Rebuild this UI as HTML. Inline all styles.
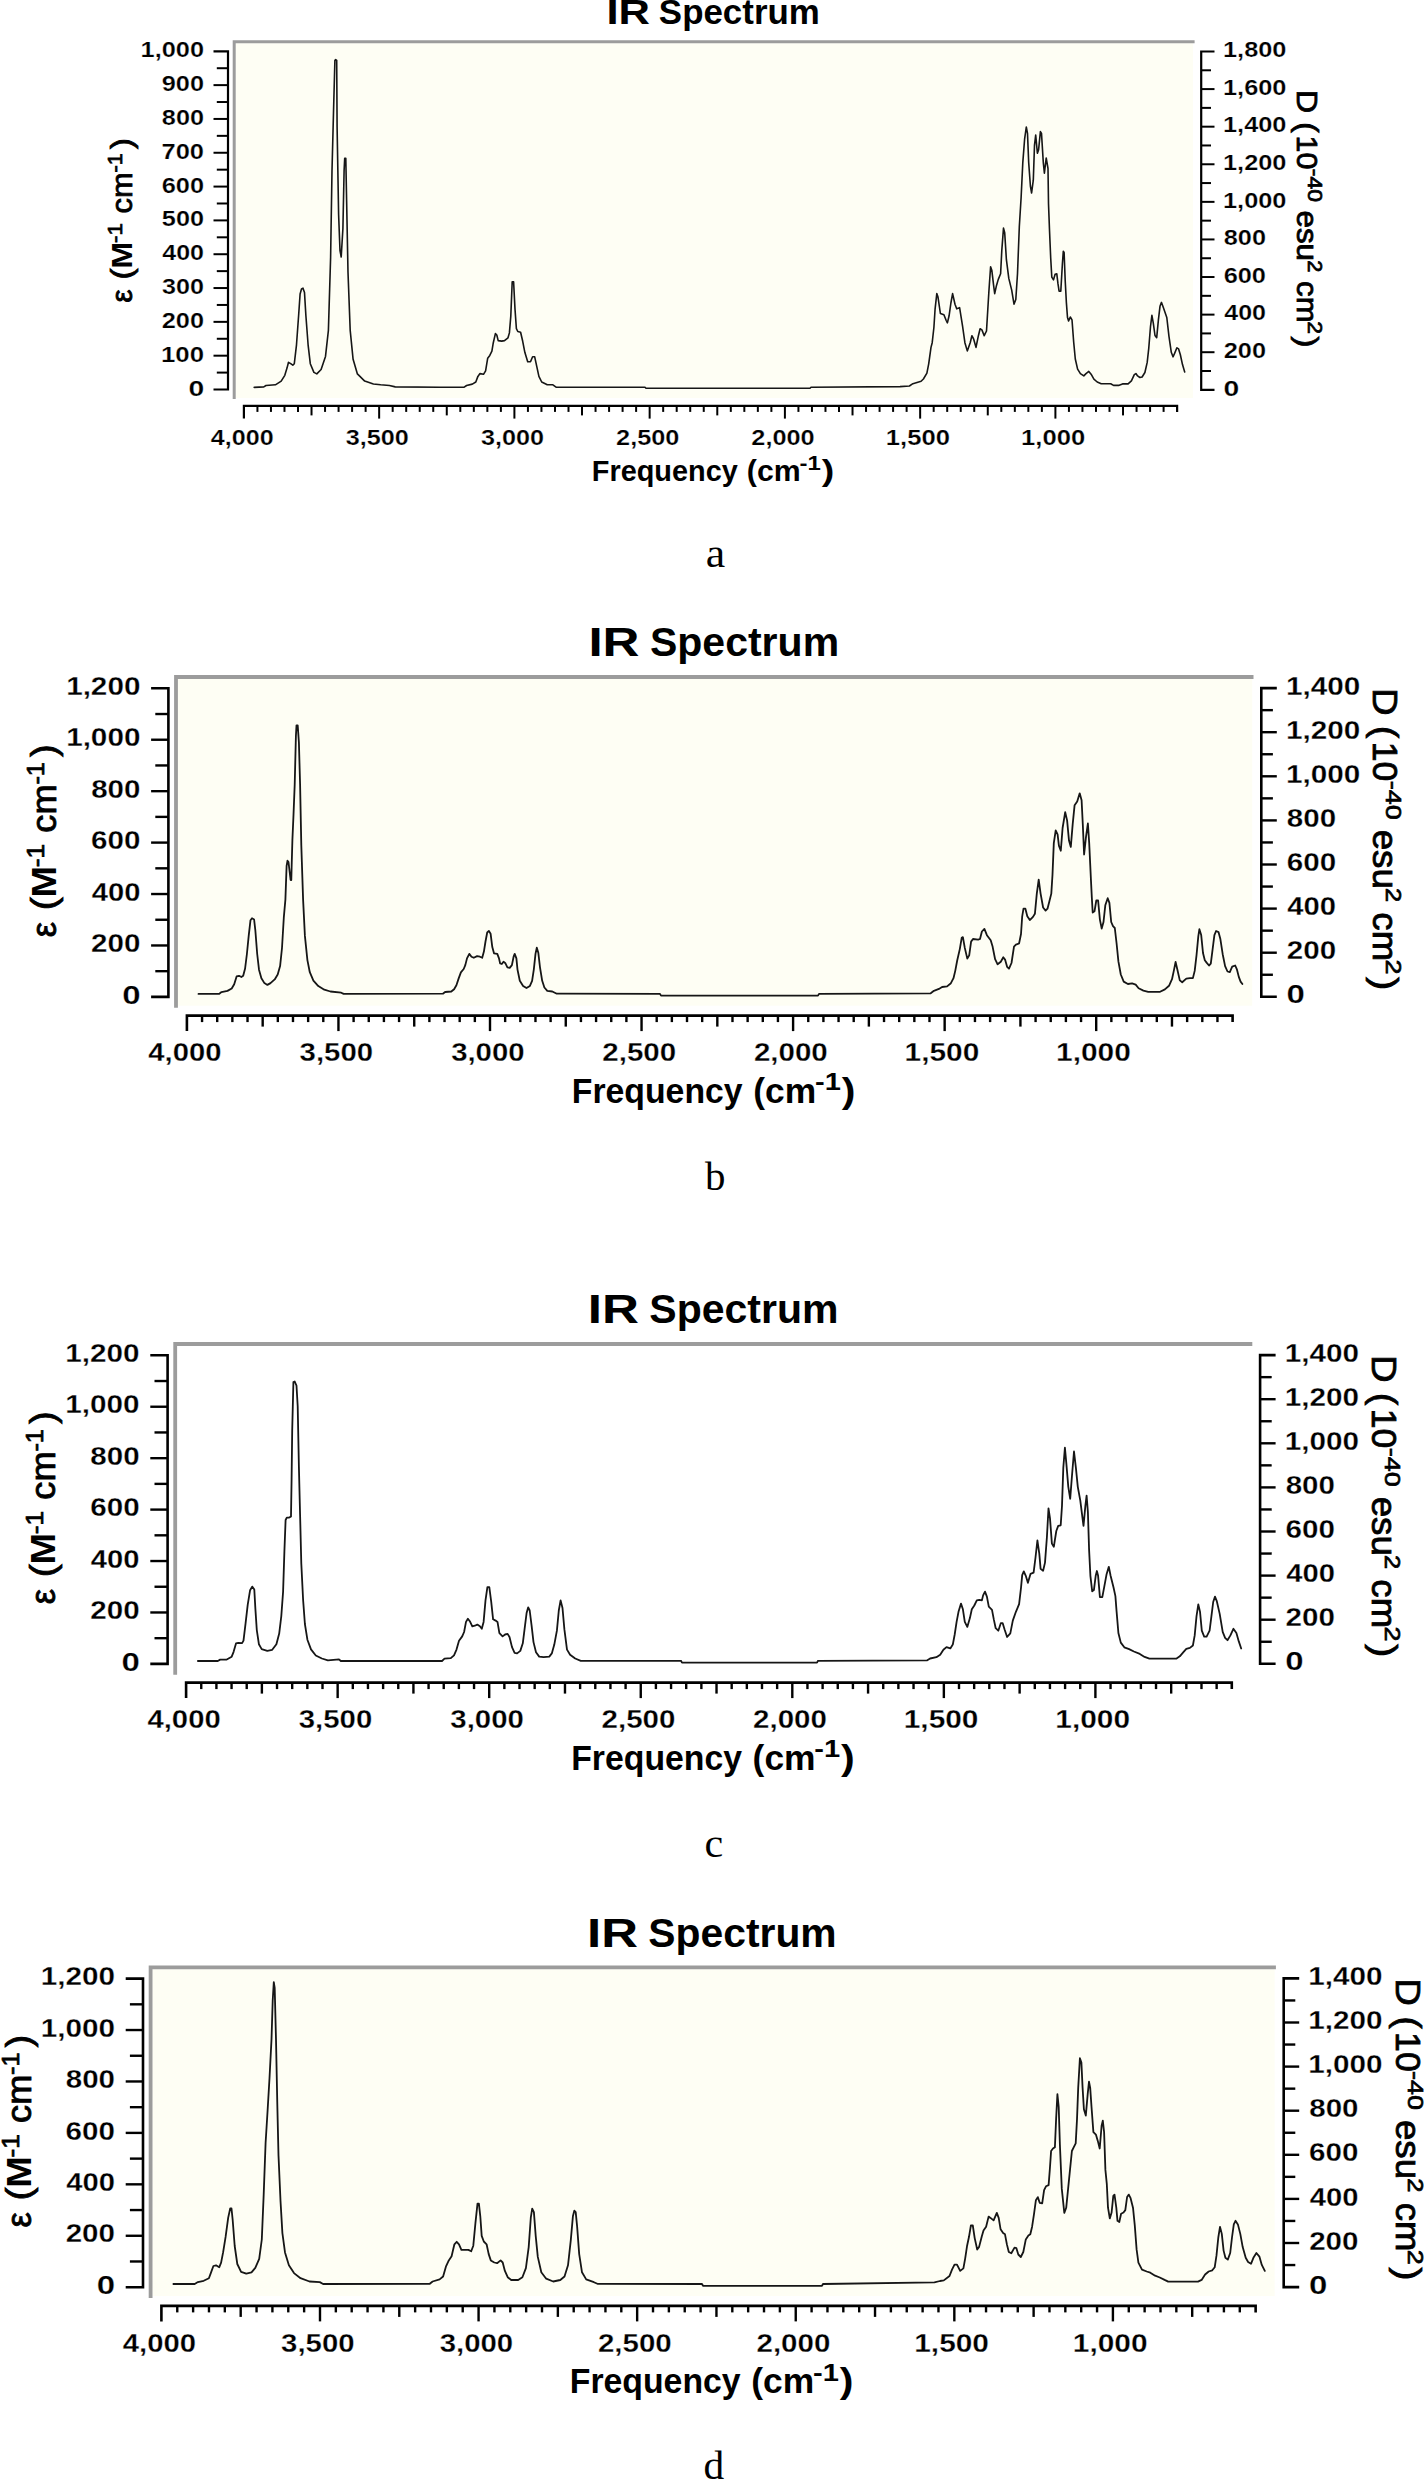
<!DOCTYPE html>
<html><head><meta charset="utf-8"><style>
html,body{margin:0;padding:0;background:#fff;}
svg{display:block;}
</style></head><body>
<svg width="1426" height="2480" viewBox="0 0 1426 2480">
<rect width="1426" height="2480" fill="#fff"/>
<rect x="235.60" y="43.20" width="957.40" height="354.80" fill="#fefef4"/>
<path d="M234.20,399.00 L234.20,41.70 L1194.60,41.70" fill="none" stroke="#9c9c9c" stroke-width="3.0"/>
<polyline points="254.2,387.4 263.8,386.9 266.0,385.5 275.4,384.8 281.2,381.1 284.8,375.3 287.0,368.1 288.5,362.3 290.7,363.7 292.8,365.2 294.3,363.7 296.5,344.8 298.6,315.8 300.1,294.0 301.5,289.0 303.0,288.2 304.5,292.6 305.9,315.8 308.1,344.8 310.3,363.7 313.9,372.4 316.8,373.9 321.1,369.5 325.5,356.4 328.4,330.3 330.6,257.7 332.0,170.6 333.5,112.6 334.9,60.3 335.7,59.6 336.7,60.3 337.1,127.1 338.6,214.2 340.0,250.5 341.2,257.0 342.9,228.7 344.1,170.6 344.7,158.3 345.8,158.3 346.6,199.7 348.0,272.3 350.2,330.3 353.1,359.3 357.4,373.9 364.7,381.1 373.4,384.0 380.7,384.8 389.4,385.5 395.2,386.9 440.0,387.3 463.8,387.3 466.6,385.5 472.3,384.1 475.8,382.0 477.9,376.4 480.0,373.6 483.5,374.3 485.6,370.8 487.7,358.2 489.8,355.4 491.9,351.2 493.3,342.7 495.4,333.6 496.8,335.0 498.2,340.6 501.7,341.1 504.5,340.6 508.0,337.8 509.4,332.9 510.8,316.1 512.2,281.7 513.6,281.7 515.0,309.1 516.4,328.7 517.8,331.5 520.6,332.2 522.7,341.3 524.9,352.6 527.7,361.7 530.5,361.7 532.6,356.8 534.7,356.8 536.8,366.6 538.9,376.4 541.7,382.0 547.3,384.8 552.9,384.8 556.4,387.3 645.0,387.3 646.0,388.3 810.0,388.3 811.0,387.3 900.0,386.6 909.4,386.0 912.9,383.7 921.1,381.3 923.4,379.0 926.9,373.2 928.7,363.8 931.0,347.4 932.2,342.7 933.9,327.5 935.1,308.8 936.8,293.6 938.0,297.1 940.4,313.5 943.9,314.7 946.2,320.5 947.4,322.9 949.1,315.8 950.9,303.0 952.6,293.6 955.0,304.2 956.7,308.8 959.6,307.7 962.6,326.4 964.9,342.7 967.3,350.9 970.2,342.7 971.9,335.7 973.7,339.2 976.0,347.4 978.4,335.7 980.1,328.7 981.9,329.9 984.2,335.7 986.5,331.0 988.9,291.3 990.6,266.7 991.8,270.2 993.6,285.4 994.7,293.6 996.5,285.4 998.2,279.6 1000.6,273.7 1001.8,250.4 1003.5,228.1 1004.7,232.8 1006.4,259.7 1008.8,278.4 1011.7,290.1 1014.0,304.2 1015.8,299.5 1017.5,273.7 1019.3,227.0 1021.1,197.7 1022.8,162.6 1024.6,139.2 1026.3,127.0 1027.5,133.4 1028.7,162.6 1030.4,186.0 1031.6,193.0 1033.3,180.2 1034.5,145.1 1035.7,135.1 1037.4,153.3 1038.6,149.8 1040.4,131.6 1041.5,133.4 1043.3,162.6 1044.4,173.2 1046.2,158.0 1048.0,168.5 1048.5,203.6 1049.5,230.0 1050.7,258.0 1051.8,277.1 1053.5,279.9 1055.1,274.3 1056.8,273.8 1058.0,283.9 1059.1,291.2 1060.8,291.2 1062.4,263.7 1063.3,251.3 1064.1,252.4 1065.2,280.5 1066.4,302.9 1067.5,317.5 1068.6,320.9 1070.3,317.0 1072.0,319.8 1073.7,342.2 1075.3,359.0 1077.6,369.1 1080.4,373.6 1083.8,375.9 1086.0,373.6 1088.8,371.4 1091.1,374.2 1093.9,379.2 1097.2,382.0 1101.2,383.7 1110.7,383.7 1113.5,385.4 1118.5,385.4 1122.5,383.9 1128.1,383.9 1131.4,380.9 1134.3,374.7 1135.9,373.6 1137.6,375.9 1139.9,377.5 1142.1,377.0 1144.9,372.5 1147.2,362.4 1148.8,347.8 1150.5,326.5 1151.9,315.3 1153.3,323.1 1155.0,335.5 1156.7,337.7 1158.4,319.8 1160.0,306.3 1161.4,302.4 1162.9,306.3 1166.8,317.5 1169.0,336.6 1171.3,352.3 1173.0,356.8 1174.6,353.4 1176.9,347.8 1178.6,348.9 1180.3,354.5 1182.5,364.6 1184.7,371.9" fill="none" stroke="#161616" stroke-width="1.6" stroke-linejoin="round" stroke-linecap="round"/>
<path d="M213.50,51.30 H228.00 V389.50 H213.50" fill="none" stroke="#000" stroke-width="2.2" stroke-linejoin="miter"/>
<line x1="216.80" y1="372.59" x2="228.00" y2="372.59" stroke="#000" stroke-width="2.0"/>
<line x1="213.50" y1="355.68" x2="228.00" y2="355.68" stroke="#000" stroke-width="2.0"/>
<line x1="216.80" y1="338.77" x2="228.00" y2="338.77" stroke="#000" stroke-width="2.0"/>
<line x1="213.50" y1="321.86" x2="228.00" y2="321.86" stroke="#000" stroke-width="2.0"/>
<line x1="216.80" y1="304.95" x2="228.00" y2="304.95" stroke="#000" stroke-width="2.0"/>
<line x1="213.50" y1="288.04" x2="228.00" y2="288.04" stroke="#000" stroke-width="2.0"/>
<line x1="216.80" y1="271.13" x2="228.00" y2="271.13" stroke="#000" stroke-width="2.0"/>
<line x1="213.50" y1="254.22" x2="228.00" y2="254.22" stroke="#000" stroke-width="2.0"/>
<line x1="216.80" y1="237.31" x2="228.00" y2="237.31" stroke="#000" stroke-width="2.0"/>
<line x1="213.50" y1="220.40" x2="228.00" y2="220.40" stroke="#000" stroke-width="2.0"/>
<line x1="216.80" y1="203.49" x2="228.00" y2="203.49" stroke="#000" stroke-width="2.0"/>
<line x1="213.50" y1="186.58" x2="228.00" y2="186.58" stroke="#000" stroke-width="2.0"/>
<line x1="216.80" y1="169.67" x2="228.00" y2="169.67" stroke="#000" stroke-width="2.0"/>
<line x1="213.50" y1="152.76" x2="228.00" y2="152.76" stroke="#000" stroke-width="2.0"/>
<line x1="216.80" y1="135.85" x2="228.00" y2="135.85" stroke="#000" stroke-width="2.0"/>
<line x1="213.50" y1="118.94" x2="228.00" y2="118.94" stroke="#000" stroke-width="2.0"/>
<line x1="216.80" y1="102.03" x2="228.00" y2="102.03" stroke="#000" stroke-width="2.0"/>
<line x1="213.50" y1="85.12" x2="228.00" y2="85.12" stroke="#000" stroke-width="2.0"/>
<line x1="216.80" y1="68.21" x2="228.00" y2="68.21" stroke="#000" stroke-width="2.0"/>
<text transform="translate(188.43,395.50) scale(1.2855,1)" font-family='"Liberation Sans", sans-serif' font-weight="bold" font-size="22.00" fill="#000" stroke="#fff" stroke-width="0.19" paint-order="normal">0</text>
<text transform="translate(161.03,361.68) scale(1.1724,1)" font-family='"Liberation Sans", sans-serif' font-weight="bold" font-size="22.00" fill="#000" stroke="#fff" stroke-width="0.21" paint-order="normal">100</text>
<text transform="translate(161.77,327.86) scale(1.1515,1)" font-family='"Liberation Sans", sans-serif' font-weight="bold" font-size="22.00" fill="#000" stroke="#fff" stroke-width="0.22" paint-order="normal">200</text>
<text transform="translate(162.07,294.04) scale(1.1431,1)" font-family='"Liberation Sans", sans-serif' font-weight="bold" font-size="22.00" fill="#000" stroke="#fff" stroke-width="0.22" paint-order="normal">300</text>
<text transform="translate(162.27,260.22) scale(1.1376,1)" font-family='"Liberation Sans", sans-serif' font-weight="bold" font-size="22.00" fill="#000" stroke="#fff" stroke-width="0.22" paint-order="normal">400</text>
<text transform="translate(161.87,226.40) scale(1.1487,1)" font-family='"Liberation Sans", sans-serif' font-weight="bold" font-size="22.00" fill="#000" stroke="#fff" stroke-width="0.22" paint-order="normal">500</text>
<text transform="translate(161.72,192.58) scale(1.1529,1)" font-family='"Liberation Sans", sans-serif' font-weight="bold" font-size="22.00" fill="#000" stroke="#fff" stroke-width="0.22" paint-order="normal">600</text>
<text transform="translate(161.56,158.76) scale(1.1575,1)" font-family='"Liberation Sans", sans-serif' font-weight="bold" font-size="22.00" fill="#000" stroke="#fff" stroke-width="0.22" paint-order="normal">700</text>
<text transform="translate(161.85,124.94) scale(1.1494,1)" font-family='"Liberation Sans", sans-serif' font-weight="bold" font-size="22.00" fill="#000" stroke="#fff" stroke-width="0.22" paint-order="normal">800</text>
<text transform="translate(161.77,91.12) scale(1.1515,1)" font-family='"Liberation Sans", sans-serif' font-weight="bold" font-size="22.00" fill="#000" stroke="#fff" stroke-width="0.22" paint-order="normal">900</text>
<text transform="translate(140.60,57.30) scale(1.1523,1)" font-family='"Liberation Sans", sans-serif' font-weight="bold" font-size="22.00" fill="#000" stroke="#fff" stroke-width="0.22" paint-order="normal">1,000</text>
<path d="M1214.50,51.50 H1201.20 V389.80 H1214.50" fill="none" stroke="#000" stroke-width="2.2" stroke-linejoin="miter"/>
<line x1="1201.20" y1="371.01" x2="1211.00" y2="371.01" stroke="#000" stroke-width="2.0"/>
<line x1="1201.20" y1="352.21" x2="1214.50" y2="352.21" stroke="#000" stroke-width="2.0"/>
<line x1="1201.20" y1="333.42" x2="1211.00" y2="333.42" stroke="#000" stroke-width="2.0"/>
<line x1="1201.20" y1="314.62" x2="1214.50" y2="314.62" stroke="#000" stroke-width="2.0"/>
<line x1="1201.20" y1="295.83" x2="1211.00" y2="295.83" stroke="#000" stroke-width="2.0"/>
<line x1="1201.20" y1="277.03" x2="1214.50" y2="277.03" stroke="#000" stroke-width="2.0"/>
<line x1="1201.20" y1="258.24" x2="1211.00" y2="258.24" stroke="#000" stroke-width="2.0"/>
<line x1="1201.20" y1="239.44" x2="1214.50" y2="239.44" stroke="#000" stroke-width="2.0"/>
<line x1="1201.20" y1="220.65" x2="1211.00" y2="220.65" stroke="#000" stroke-width="2.0"/>
<line x1="1201.20" y1="201.86" x2="1214.50" y2="201.86" stroke="#000" stroke-width="2.0"/>
<line x1="1201.20" y1="183.06" x2="1211.00" y2="183.06" stroke="#000" stroke-width="2.0"/>
<line x1="1201.20" y1="164.27" x2="1214.50" y2="164.27" stroke="#000" stroke-width="2.0"/>
<line x1="1201.20" y1="145.47" x2="1211.00" y2="145.47" stroke="#000" stroke-width="2.0"/>
<line x1="1201.20" y1="126.68" x2="1214.50" y2="126.68" stroke="#000" stroke-width="2.0"/>
<line x1="1201.20" y1="107.88" x2="1211.00" y2="107.88" stroke="#000" stroke-width="2.0"/>
<line x1="1201.20" y1="89.09" x2="1214.50" y2="89.09" stroke="#000" stroke-width="2.0"/>
<line x1="1201.20" y1="70.29" x2="1211.00" y2="70.29" stroke="#000" stroke-width="2.0"/>
<text transform="translate(1223.48,395.60) scale(1.2855,1)" font-family='"Liberation Sans", sans-serif' font-weight="bold" font-size="22.00" fill="#000" stroke="#fff" stroke-width="0.19" paint-order="normal">0</text>
<text transform="translate(1223.72,358.01) scale(1.1515,1)" font-family='"Liberation Sans", sans-serif' font-weight="bold" font-size="22.00" fill="#000" stroke="#fff" stroke-width="0.22" paint-order="normal">200</text>
<text transform="translate(1224.22,320.42) scale(1.1376,1)" font-family='"Liberation Sans", sans-serif' font-weight="bold" font-size="22.00" fill="#000" stroke="#fff" stroke-width="0.22" paint-order="normal">400</text>
<text transform="translate(1223.67,282.83) scale(1.1529,1)" font-family='"Liberation Sans", sans-serif' font-weight="bold" font-size="22.00" fill="#000" stroke="#fff" stroke-width="0.22" paint-order="normal">600</text>
<text transform="translate(1223.80,245.24) scale(1.1494,1)" font-family='"Liberation Sans", sans-serif' font-weight="bold" font-size="22.00" fill="#000" stroke="#fff" stroke-width="0.22" paint-order="normal">800</text>
<text transform="translate(1223.00,207.66) scale(1.1523,1)" font-family='"Liberation Sans", sans-serif' font-weight="bold" font-size="22.00" fill="#000" stroke="#fff" stroke-width="0.22" paint-order="normal">1,000</text>
<text transform="translate(1223.00,170.07) scale(1.1523,1)" font-family='"Liberation Sans", sans-serif' font-weight="bold" font-size="22.00" fill="#000" stroke="#fff" stroke-width="0.22" paint-order="normal">1,200</text>
<text transform="translate(1223.00,132.48) scale(1.1523,1)" font-family='"Liberation Sans", sans-serif' font-weight="bold" font-size="22.00" fill="#000" stroke="#fff" stroke-width="0.22" paint-order="normal">1,400</text>
<text transform="translate(1223.00,94.89) scale(1.1523,1)" font-family='"Liberation Sans", sans-serif' font-weight="bold" font-size="22.00" fill="#000" stroke="#fff" stroke-width="0.22" paint-order="normal">1,600</text>
<text transform="translate(1223.00,57.30) scale(1.1523,1)" font-family='"Liberation Sans", sans-serif' font-weight="bold" font-size="22.00" fill="#000" stroke="#fff" stroke-width="0.22" paint-order="normal">1,800</text>
<path d="M243.90,418.60 V405.90 H1177.12 V411.90" fill="none" stroke="#000" stroke-width="2.2" stroke-linejoin="miter"/>
<line x1="257.43" y1="405.90" x2="257.43" y2="411.90" stroke="#000" stroke-width="2.0"/>
<line x1="270.95" y1="405.90" x2="270.95" y2="411.90" stroke="#000" stroke-width="2.0"/>
<line x1="284.48" y1="405.90" x2="284.48" y2="411.90" stroke="#000" stroke-width="2.0"/>
<line x1="298.00" y1="405.90" x2="298.00" y2="411.90" stroke="#000" stroke-width="2.0"/>
<line x1="311.52" y1="405.90" x2="311.52" y2="415.40" stroke="#000" stroke-width="2.0"/>
<line x1="325.05" y1="405.90" x2="325.05" y2="411.90" stroke="#000" stroke-width="2.0"/>
<line x1="338.58" y1="405.90" x2="338.58" y2="411.90" stroke="#000" stroke-width="2.0"/>
<line x1="352.10" y1="405.90" x2="352.10" y2="411.90" stroke="#000" stroke-width="2.0"/>
<line x1="365.62" y1="405.90" x2="365.62" y2="411.90" stroke="#000" stroke-width="2.0"/>
<line x1="379.15" y1="405.90" x2="379.15" y2="418.60" stroke="#000" stroke-width="2.0"/>
<line x1="392.68" y1="405.90" x2="392.68" y2="411.90" stroke="#000" stroke-width="2.0"/>
<line x1="406.20" y1="405.90" x2="406.20" y2="411.90" stroke="#000" stroke-width="2.0"/>
<line x1="419.73" y1="405.90" x2="419.73" y2="411.90" stroke="#000" stroke-width="2.0"/>
<line x1="433.25" y1="405.90" x2="433.25" y2="411.90" stroke="#000" stroke-width="2.0"/>
<line x1="446.77" y1="405.90" x2="446.77" y2="415.40" stroke="#000" stroke-width="2.0"/>
<line x1="460.30" y1="405.90" x2="460.30" y2="411.90" stroke="#000" stroke-width="2.0"/>
<line x1="473.83" y1="405.90" x2="473.83" y2="411.90" stroke="#000" stroke-width="2.0"/>
<line x1="487.35" y1="405.90" x2="487.35" y2="411.90" stroke="#000" stroke-width="2.0"/>
<line x1="500.88" y1="405.90" x2="500.88" y2="411.90" stroke="#000" stroke-width="2.0"/>
<line x1="514.40" y1="405.90" x2="514.40" y2="418.60" stroke="#000" stroke-width="2.0"/>
<line x1="527.93" y1="405.90" x2="527.93" y2="411.90" stroke="#000" stroke-width="2.0"/>
<line x1="541.45" y1="405.90" x2="541.45" y2="411.90" stroke="#000" stroke-width="2.0"/>
<line x1="554.98" y1="405.90" x2="554.98" y2="411.90" stroke="#000" stroke-width="2.0"/>
<line x1="568.50" y1="405.90" x2="568.50" y2="411.90" stroke="#000" stroke-width="2.0"/>
<line x1="582.02" y1="405.90" x2="582.02" y2="415.40" stroke="#000" stroke-width="2.0"/>
<line x1="595.55" y1="405.90" x2="595.55" y2="411.90" stroke="#000" stroke-width="2.0"/>
<line x1="609.08" y1="405.90" x2="609.08" y2="411.90" stroke="#000" stroke-width="2.0"/>
<line x1="622.60" y1="405.90" x2="622.60" y2="411.90" stroke="#000" stroke-width="2.0"/>
<line x1="636.12" y1="405.90" x2="636.12" y2="411.90" stroke="#000" stroke-width="2.0"/>
<line x1="649.65" y1="405.90" x2="649.65" y2="418.60" stroke="#000" stroke-width="2.0"/>
<line x1="663.18" y1="405.90" x2="663.18" y2="411.90" stroke="#000" stroke-width="2.0"/>
<line x1="676.70" y1="405.90" x2="676.70" y2="411.90" stroke="#000" stroke-width="2.0"/>
<line x1="690.23" y1="405.90" x2="690.23" y2="411.90" stroke="#000" stroke-width="2.0"/>
<line x1="703.75" y1="405.90" x2="703.75" y2="411.90" stroke="#000" stroke-width="2.0"/>
<line x1="717.28" y1="405.90" x2="717.28" y2="415.40" stroke="#000" stroke-width="2.0"/>
<line x1="730.80" y1="405.90" x2="730.80" y2="411.90" stroke="#000" stroke-width="2.0"/>
<line x1="744.33" y1="405.90" x2="744.33" y2="411.90" stroke="#000" stroke-width="2.0"/>
<line x1="757.85" y1="405.90" x2="757.85" y2="411.90" stroke="#000" stroke-width="2.0"/>
<line x1="771.38" y1="405.90" x2="771.38" y2="411.90" stroke="#000" stroke-width="2.0"/>
<line x1="784.90" y1="405.90" x2="784.90" y2="418.60" stroke="#000" stroke-width="2.0"/>
<line x1="798.43" y1="405.90" x2="798.43" y2="411.90" stroke="#000" stroke-width="2.0"/>
<line x1="811.95" y1="405.90" x2="811.95" y2="411.90" stroke="#000" stroke-width="2.0"/>
<line x1="825.48" y1="405.90" x2="825.48" y2="411.90" stroke="#000" stroke-width="2.0"/>
<line x1="839.00" y1="405.90" x2="839.00" y2="411.90" stroke="#000" stroke-width="2.0"/>
<line x1="852.52" y1="405.90" x2="852.52" y2="415.40" stroke="#000" stroke-width="2.0"/>
<line x1="866.05" y1="405.90" x2="866.05" y2="411.90" stroke="#000" stroke-width="2.0"/>
<line x1="879.58" y1="405.90" x2="879.58" y2="411.90" stroke="#000" stroke-width="2.0"/>
<line x1="893.10" y1="405.90" x2="893.10" y2="411.90" stroke="#000" stroke-width="2.0"/>
<line x1="906.62" y1="405.90" x2="906.62" y2="411.90" stroke="#000" stroke-width="2.0"/>
<line x1="920.15" y1="405.90" x2="920.15" y2="418.60" stroke="#000" stroke-width="2.0"/>
<line x1="933.68" y1="405.90" x2="933.68" y2="411.90" stroke="#000" stroke-width="2.0"/>
<line x1="947.20" y1="405.90" x2="947.20" y2="411.90" stroke="#000" stroke-width="2.0"/>
<line x1="960.73" y1="405.90" x2="960.73" y2="411.90" stroke="#000" stroke-width="2.0"/>
<line x1="974.25" y1="405.90" x2="974.25" y2="411.90" stroke="#000" stroke-width="2.0"/>
<line x1="987.77" y1="405.90" x2="987.77" y2="415.40" stroke="#000" stroke-width="2.0"/>
<line x1="1001.30" y1="405.90" x2="1001.30" y2="411.90" stroke="#000" stroke-width="2.0"/>
<line x1="1014.83" y1="405.90" x2="1014.83" y2="411.90" stroke="#000" stroke-width="2.0"/>
<line x1="1028.35" y1="405.90" x2="1028.35" y2="411.90" stroke="#000" stroke-width="2.0"/>
<line x1="1041.88" y1="405.90" x2="1041.88" y2="411.90" stroke="#000" stroke-width="2.0"/>
<line x1="1055.40" y1="405.90" x2="1055.40" y2="418.60" stroke="#000" stroke-width="2.0"/>
<line x1="1068.93" y1="405.90" x2="1068.93" y2="411.90" stroke="#000" stroke-width="2.0"/>
<line x1="1082.45" y1="405.90" x2="1082.45" y2="411.90" stroke="#000" stroke-width="2.0"/>
<line x1="1095.98" y1="405.90" x2="1095.98" y2="411.90" stroke="#000" stroke-width="2.0"/>
<line x1="1109.50" y1="405.90" x2="1109.50" y2="411.90" stroke="#000" stroke-width="2.0"/>
<line x1="1123.03" y1="405.90" x2="1123.03" y2="415.40" stroke="#000" stroke-width="2.0"/>
<line x1="1136.55" y1="405.90" x2="1136.55" y2="411.90" stroke="#000" stroke-width="2.0"/>
<line x1="1150.08" y1="405.90" x2="1150.08" y2="411.90" stroke="#000" stroke-width="2.0"/>
<line x1="1163.60" y1="405.90" x2="1163.60" y2="411.90" stroke="#000" stroke-width="2.0"/>
<text transform="translate(210.82,445.00) scale(1.1409,1)" font-family='"Liberation Sans", sans-serif' font-weight="bold" font-size="22.00" fill="#000" stroke="#fff" stroke-width="0.22" paint-order="normal">4,000</text>
<text transform="translate(345.87,445.00) scale(1.1445,1)" font-family='"Liberation Sans", sans-serif' font-weight="bold" font-size="22.00" fill="#000" stroke="#fff" stroke-width="0.22" paint-order="normal">3,500</text>
<text transform="translate(481.12,445.00) scale(1.1445,1)" font-family='"Liberation Sans", sans-serif' font-weight="bold" font-size="22.00" fill="#000" stroke="#fff" stroke-width="0.22" paint-order="normal">3,000</text>
<text transform="translate(616.07,445.00) scale(1.1501,1)" font-family='"Liberation Sans", sans-serif' font-weight="bold" font-size="22.00" fill="#000" stroke="#fff" stroke-width="0.22" paint-order="normal">2,500</text>
<text transform="translate(751.32,445.00) scale(1.1501,1)" font-family='"Liberation Sans", sans-serif' font-weight="bold" font-size="22.00" fill="#000" stroke="#fff" stroke-width="0.22" paint-order="normal">2,000</text>
<text transform="translate(885.84,445.00) scale(1.1636,1)" font-family='"Liberation Sans", sans-serif' font-weight="bold" font-size="22.00" fill="#000" stroke="#fff" stroke-width="0.21" paint-order="normal">1,500</text>
<text transform="translate(1021.09,445.00) scale(1.1636,1)" font-family='"Liberation Sans", sans-serif' font-weight="bold" font-size="22.00" fill="#000" stroke="#fff" stroke-width="0.21" paint-order="normal">1,000</text>
<text transform="translate(606.49,23.60) scale(1.2332,1)" font-family='"Liberation Sans", sans-serif' font-weight="bold" font-size="35.31" fill="#000">IR</text>
<text transform="translate(658.87,23.60) scale(0.9885,1)" font-family='"Liberation Sans", sans-serif' font-weight="bold" font-size="35.31" fill="#000">Spectrum</text>
<text transform="translate(591.77,480.60) scale(0.9673,1)" font-family='"Liberation Sans", sans-serif' font-weight="bold" font-size="29.86" fill="#000">Frequency</text>
<text transform="translate(746.84,480.60) scale(1.0141,1)" font-family='"Liberation Sans", sans-serif' font-weight="bold" font-size="29.86" fill="#000">(cm</text>
<text transform="translate(799.56,470.20) scale(1.2212,1)" font-family='"Liberation Sans", sans-serif' font-weight="bold" font-size="19.62" fill="#000">-1</text>
<text transform="translate(821.86,480.60) scale(1.2580,1)" font-family='"Liberation Sans", sans-serif' font-weight="bold" font-size="29.86" fill="#000">)</text>
<text transform="translate(131.90,301.60) rotate(-90) translate(-1.00,0.00) scale(0.9752,1)" font-family='"Liberation Sans", sans-serif' font-weight="normal" font-size="29.86" fill="#000" stroke="#000" stroke-width="0.87">ε</text>
<text transform="translate(131.90,301.60) rotate(-90) translate(22.05,0.00) scale(1.1315,1)" font-family='"Liberation Sans", sans-serif' font-weight="normal" font-size="29.86" fill="#000" stroke="#000" stroke-width="0.75">(</text>
<text transform="translate(131.90,301.60) rotate(-90) translate(32.81,0.00) scale(1.0828,1)" font-family='"Liberation Sans", sans-serif' font-weight="bold" font-size="29.86" fill="#000">M</text>
<text transform="translate(131.90,301.60) rotate(-90) translate(58.72,-10.24) scale(1.1363,1)" font-family='"Liberation Sans", sans-serif' font-weight="normal" font-size="19.62" fill="#000" stroke="#000" stroke-width="0.75">-1</text>
<text transform="translate(131.90,301.60) rotate(-90) translate(88.17,0.00) scale(1.0336,1)" font-family='"Liberation Sans", sans-serif' font-weight="normal" font-size="29.86" fill="#000" stroke="#000" stroke-width="0.82">cm</text>
<text transform="translate(131.90,301.60) rotate(-90) translate(129.13,-10.24) scale(1.0980,1)" font-family='"Liberation Sans", sans-serif' font-weight="normal" font-size="19.62" fill="#000" stroke="#000" stroke-width="0.77">-1</text>
<text transform="translate(131.90,301.60) rotate(-90) translate(152.58,0.00) scale(1.0776,1)" font-family='"Liberation Sans", sans-serif' font-weight="normal" font-size="29.86" fill="#000" stroke="#000" stroke-width="0.79">)</text>
<text transform="translate(1296.90,92.40) rotate(90) translate(-2.67,0.00) scale(1.0902,1)" font-family='"Liberation Sans", sans-serif' font-weight="normal" font-size="29.86" fill="#000" stroke="#000" stroke-width="0.78">D</text>
<text transform="translate(1296.90,92.40) rotate(90) translate(29.78,0.00) scale(1.0561,1)" font-family='"Liberation Sans", sans-serif' font-weight="normal" font-size="29.86" fill="#000" stroke="#000" stroke-width="0.80">(</text>
<text transform="translate(1296.90,92.40) rotate(90) translate(43.15,0.00) scale(1.0173,1)" font-family='"Liberation Sans", sans-serif' font-weight="normal" font-size="29.86" fill="#000" stroke="#000" stroke-width="0.84">10</text>
<text transform="translate(1296.90,92.40) rotate(90) translate(76.43,-10.83) scale(1.1872,1)" font-family='"Liberation Sans", sans-serif' font-weight="normal" font-size="19.36" fill="#000" stroke="#000" stroke-width="0.72">-40</text>
<text transform="translate(1296.90,92.40) rotate(90) translate(118.09,0.00) scale(1.0490,1)" font-family='"Liberation Sans", sans-serif' font-weight="normal" font-size="29.86" fill="#000" stroke="#000" stroke-width="0.81">esu</text>
<text transform="translate(1296.90,92.40) rotate(90) translate(167.89,-10.83) scale(1.1217,1)" font-family='"Liberation Sans", sans-serif' font-weight="normal" font-size="19.36" fill="#000" stroke="#000" stroke-width="0.76">2</text>
<text transform="translate(1296.90,92.40) rotate(90) translate(188.64,0.00) scale(1.0452,1)" font-family='"Liberation Sans", sans-serif' font-weight="normal" font-size="29.86" fill="#000" stroke="#000" stroke-width="0.81">cm</text>
<text transform="translate(1296.90,92.40) rotate(90) translate(228.81,-10.83) scale(1.1894,1)" font-family='"Liberation Sans", sans-serif' font-weight="normal" font-size="19.36" fill="#000" stroke="#000" stroke-width="0.71">2</text>
<text transform="translate(1296.90,92.40) rotate(90) translate(243.85,0.00) scale(1.1315,1)" font-family='"Liberation Sans", sans-serif' font-weight="normal" font-size="29.86" fill="#000" stroke="#000" stroke-width="0.75">)</text>
<text transform="translate(705.66,566.60) scale(1.0949,1)" font-family='"Liberation Serif", serif' font-weight="normal" font-size="40.00" fill="#000">a</text>
<rect x="177.90" y="678.90" width="1074.30" height="326.80" fill="#fefef4"/>
<path d="M176.00,1007.80 L176.00,677.00 L1253.50,677.00" fill="none" stroke="#9c9c9c" stroke-width="3.8"/>
<polyline points="198.5,993.9 219.0,993.9 221.5,992.1 227.5,990.9 231.7,988.5 234.2,984.3 236.6,976.4 239.0,975.8 241.4,977.0 243.2,975.8 245.1,968.5 246.9,954.0 248.7,935.9 250.5,920.2 252.0,918.3 254.1,919.5 255.3,929.8 257.2,954.0 259.0,969.7 261.4,978.2 264.4,983.1 267.4,984.9 270.5,983.1 274.7,979.4 277.7,974.6 280.1,966.1 282.0,948.0 283.8,917.7 285.4,899.6 286.6,866.0 287.5,860.7 288.5,862.0 290.6,880.0 291.3,880.0 291.7,864.5 292.4,840.0 293.5,815.0 294.7,784.7 295.9,736.3 296.5,725.4 297.7,725.4 298.9,742.3 300.1,784.7 301.3,845.2 303.1,899.6 304.9,935.9 307.4,960.1 309.8,972.2 313.4,980.6 318.3,986.1 324.3,989.7 330.4,991.5 341.2,992.7 343.7,993.9 442.9,993.7 445.1,992.0 451.3,991.5 454.1,989.2 456.4,985.3 458.6,978.6 460.9,972.4 463.7,969.0 465.3,965.1 467.0,958.4 469.3,953.9 471.5,956.7 473.8,957.8 477.1,956.1 479.9,956.7 482.2,957.8 483.9,951.6 485.5,941.5 487.2,932.5 488.9,930.9 490.6,933.7 492.3,947.1 494.0,953.3 497.3,953.9 499.0,958.4 500.1,963.4 501.8,964.0 503.5,961.7 505.2,962.9 507.4,967.3 509.7,967.9 511.9,965.1 513.6,956.7 514.7,953.9 516.4,958.4 517.5,969.6 519.8,980.8 523.1,985.9 526.5,988.1 529.9,985.9 532.1,980.8 533.8,969.6 535.5,953.9 536.8,947.7 538.3,952.7 540.0,967.3 542.2,980.8 544.4,987.5 547.3,990.9 552.3,991.5 556.8,993.7 660.0,993.9 661.0,995.6 818.0,995.6 819.0,993.9 930.7,993.3 933.9,990.8 938.9,988.9 942.1,987.0 947.1,986.4 950.9,983.2 953.5,978.2 955.3,970.6 957.2,960.5 959.8,949.1 961.7,937.8 962.9,937.1 964.8,947.9 967.3,958.6 969.2,955.4 971.1,941.6 973.0,939.0 978.1,939.7 980.0,939.0 981.9,931.5 984.4,928.9 986.9,935.2 990.7,940.3 992.6,946.6 995.1,959.2 997.6,964.3 1000.8,961.7 1003.3,957.3 1005.2,959.9 1007.1,966.8 1009.0,968.7 1011.5,963.0 1014.0,946.6 1015.9,944.7 1019.1,943.4 1021.0,934.0 1022.2,916.3 1023.5,908.7 1025.4,908.7 1027.3,916.3 1029.8,920.1 1033.0,916.9 1034.9,913.8 1036.8,893.6 1038.7,879.7 1040.6,893.6 1043.1,907.5 1045.6,910.6 1047.5,908.7 1049.4,901.2 1051.3,893.6 1052.5,874.7 1053.8,843.1 1055.7,830.5 1057.6,834.3 1058.9,845.6 1060.8,850.7 1062.6,828.0 1065.2,812.2 1067.1,820.4 1069.0,840.6 1070.8,846.9 1072.7,824.2 1074.6,805.2 1077.2,801.5 1079.7,793.3 1081.6,800.2 1082.8,824.2 1084.1,854.5 1086.0,836.8 1087.9,823.5 1089.2,843.1 1091.0,881.0 1091.8,897.0 1092.7,912.5 1094.5,911.3 1096.3,900.5 1098.1,900.5 1099.9,919.6 1101.7,928.6 1103.5,922.0 1105.3,905.3 1107.7,898.2 1109.4,902.9 1111.2,922.0 1113.0,926.2 1114.8,928.0 1116.6,943.5 1118.4,961.4 1120.8,974.5 1123.7,981.6 1127.9,984.0 1132.1,983.4 1135.7,984.6 1138.6,988.2 1143.4,990.6 1148.2,991.8 1160.1,991.8 1164.9,989.4 1169.0,985.8 1172.0,979.2 1173.8,970.9 1175.6,962.0 1177.4,969.7 1179.8,980.4 1182.2,982.2 1186.3,978.6 1189.9,978.1 1192.9,978.1 1194.7,970.9 1196.5,955.4 1198.3,936.3 1199.4,929.2 1201.2,935.1 1203.0,953.0 1204.8,960.2 1206.6,962.6 1209.0,965.5 1210.8,963.7 1212.6,949.4 1214.4,935.1 1216.1,931.0 1218.5,932.1 1220.3,938.7 1222.7,954.2 1225.1,966.1 1227.5,971.5 1229.8,972.1 1232.2,966.7 1235.2,965.5 1237.0,969.7 1238.8,976.9 1240.6,981.6 1242.4,984.0" fill="none" stroke="#161616" stroke-width="1.8" stroke-linejoin="round" stroke-linecap="round"/>
<path d="M151.10,688.30 H168.40 V996.90 H151.10" fill="none" stroke="#000" stroke-width="2.6" stroke-linejoin="miter"/>
<line x1="155.30" y1="971.18" x2="168.40" y2="971.18" stroke="#000" stroke-width="2.4"/>
<line x1="151.10" y1="945.47" x2="168.40" y2="945.47" stroke="#000" stroke-width="2.4"/>
<line x1="155.30" y1="919.75" x2="168.40" y2="919.75" stroke="#000" stroke-width="2.4"/>
<line x1="151.10" y1="894.03" x2="168.40" y2="894.03" stroke="#000" stroke-width="2.4"/>
<line x1="155.30" y1="868.32" x2="168.40" y2="868.32" stroke="#000" stroke-width="2.4"/>
<line x1="151.10" y1="842.60" x2="168.40" y2="842.60" stroke="#000" stroke-width="2.4"/>
<line x1="155.30" y1="816.88" x2="168.40" y2="816.88" stroke="#000" stroke-width="2.4"/>
<line x1="151.10" y1="791.17" x2="168.40" y2="791.17" stroke="#000" stroke-width="2.4"/>
<line x1="155.30" y1="765.45" x2="168.40" y2="765.45" stroke="#000" stroke-width="2.4"/>
<line x1="151.10" y1="739.73" x2="168.40" y2="739.73" stroke="#000" stroke-width="2.4"/>
<line x1="155.30" y1="714.02" x2="168.40" y2="714.02" stroke="#000" stroke-width="2.4"/>
<text transform="translate(122.19,1003.50) scale(1.2795,1)" font-family='"Liberation Sans", sans-serif' font-weight="bold" font-size="25.80" fill="#000" stroke="#fff" stroke-width="0.23" paint-order="normal">0</text>
<text transform="translate(91.07,952.07) scale(1.1462,1)" font-family='"Liberation Sans", sans-serif' font-weight="bold" font-size="25.80" fill="#000" stroke="#fff" stroke-width="0.26" paint-order="normal">200</text>
<text transform="translate(91.66,900.63) scale(1.1323,1)" font-family='"Liberation Sans", sans-serif' font-weight="bold" font-size="25.80" fill="#000" stroke="#fff" stroke-width="0.26" paint-order="normal">400</text>
<text transform="translate(91.02,849.20) scale(1.1476,1)" font-family='"Liberation Sans", sans-serif' font-weight="bold" font-size="25.80" fill="#000" stroke="#fff" stroke-width="0.26" paint-order="normal">600</text>
<text transform="translate(91.16,797.77) scale(1.1441,1)" font-family='"Liberation Sans", sans-serif' font-weight="bold" font-size="25.80" fill="#000" stroke="#fff" stroke-width="0.26" paint-order="normal">800</text>
<text transform="translate(66.13,746.33) scale(1.1506,1)" font-family='"Liberation Sans", sans-serif' font-weight="bold" font-size="25.80" fill="#000" stroke="#fff" stroke-width="0.26" paint-order="normal">1,000</text>
<text transform="translate(66.13,694.90) scale(1.1506,1)" font-family='"Liberation Sans", sans-serif' font-weight="bold" font-size="25.80" fill="#000" stroke="#fff" stroke-width="0.26" paint-order="normal">1,200</text>
<path d="M1276.80,688.10 H1261.30 V996.80 H1276.80" fill="none" stroke="#000" stroke-width="2.6" stroke-linejoin="miter"/>
<line x1="1261.30" y1="974.75" x2="1272.90" y2="974.75" stroke="#000" stroke-width="2.4"/>
<line x1="1261.30" y1="952.70" x2="1276.80" y2="952.70" stroke="#000" stroke-width="2.4"/>
<line x1="1261.30" y1="930.65" x2="1272.90" y2="930.65" stroke="#000" stroke-width="2.4"/>
<line x1="1261.30" y1="908.60" x2="1276.80" y2="908.60" stroke="#000" stroke-width="2.4"/>
<line x1="1261.30" y1="886.55" x2="1272.90" y2="886.55" stroke="#000" stroke-width="2.4"/>
<line x1="1261.30" y1="864.50" x2="1276.80" y2="864.50" stroke="#000" stroke-width="2.4"/>
<line x1="1261.30" y1="842.45" x2="1272.90" y2="842.45" stroke="#000" stroke-width="2.4"/>
<line x1="1261.30" y1="820.40" x2="1276.80" y2="820.40" stroke="#000" stroke-width="2.4"/>
<line x1="1261.30" y1="798.35" x2="1272.90" y2="798.35" stroke="#000" stroke-width="2.4"/>
<line x1="1261.30" y1="776.30" x2="1276.80" y2="776.30" stroke="#000" stroke-width="2.4"/>
<line x1="1261.30" y1="754.25" x2="1272.90" y2="754.25" stroke="#000" stroke-width="2.4"/>
<line x1="1261.30" y1="732.20" x2="1276.80" y2="732.20" stroke="#000" stroke-width="2.4"/>
<line x1="1261.30" y1="710.15" x2="1272.90" y2="710.15" stroke="#000" stroke-width="2.4"/>
<text transform="translate(1286.49,1003.40) scale(1.2795,1)" font-family='"Liberation Sans", sans-serif' font-weight="bold" font-size="25.80" fill="#000" stroke="#fff" stroke-width="0.23" paint-order="normal">0</text>
<text transform="translate(1286.77,959.30) scale(1.1462,1)" font-family='"Liberation Sans", sans-serif' font-weight="bold" font-size="25.80" fill="#000" stroke="#fff" stroke-width="0.26" paint-order="normal">200</text>
<text transform="translate(1287.36,915.20) scale(1.1323,1)" font-family='"Liberation Sans", sans-serif' font-weight="bold" font-size="25.80" fill="#000" stroke="#fff" stroke-width="0.26" paint-order="normal">400</text>
<text transform="translate(1286.72,871.10) scale(1.1476,1)" font-family='"Liberation Sans", sans-serif' font-weight="bold" font-size="25.80" fill="#000" stroke="#fff" stroke-width="0.26" paint-order="normal">600</text>
<text transform="translate(1286.86,827.00) scale(1.1441,1)" font-family='"Liberation Sans", sans-serif' font-weight="bold" font-size="25.80" fill="#000" stroke="#fff" stroke-width="0.26" paint-order="normal">800</text>
<text transform="translate(1285.93,782.90) scale(1.1506,1)" font-family='"Liberation Sans", sans-serif' font-weight="bold" font-size="25.80" fill="#000" stroke="#fff" stroke-width="0.26" paint-order="normal">1,000</text>
<text transform="translate(1285.93,738.80) scale(1.1506,1)" font-family='"Liberation Sans", sans-serif' font-weight="bold" font-size="25.80" fill="#000" stroke="#fff" stroke-width="0.26" paint-order="normal">1,200</text>
<text transform="translate(1285.93,694.70) scale(1.1506,1)" font-family='"Liberation Sans", sans-serif' font-weight="bold" font-size="25.80" fill="#000" stroke="#fff" stroke-width="0.26" paint-order="normal">1,400</text>
<path d="M186.90,1031.10 V1015.60 H1232.60 V1022.10" fill="none" stroke="#000" stroke-width="2.6" stroke-linejoin="miter"/>
<line x1="202.06" y1="1015.60" x2="202.06" y2="1022.10" stroke="#000" stroke-width="2.4"/>
<line x1="217.21" y1="1015.60" x2="217.21" y2="1022.10" stroke="#000" stroke-width="2.4"/>
<line x1="232.37" y1="1015.60" x2="232.37" y2="1022.10" stroke="#000" stroke-width="2.4"/>
<line x1="247.52" y1="1015.60" x2="247.52" y2="1022.10" stroke="#000" stroke-width="2.4"/>
<line x1="262.68" y1="1015.60" x2="262.68" y2="1026.60" stroke="#000" stroke-width="2.4"/>
<line x1="277.83" y1="1015.60" x2="277.83" y2="1022.10" stroke="#000" stroke-width="2.4"/>
<line x1="292.99" y1="1015.60" x2="292.99" y2="1022.10" stroke="#000" stroke-width="2.4"/>
<line x1="308.14" y1="1015.60" x2="308.14" y2="1022.10" stroke="#000" stroke-width="2.4"/>
<line x1="323.29" y1="1015.60" x2="323.29" y2="1022.10" stroke="#000" stroke-width="2.4"/>
<line x1="338.45" y1="1015.60" x2="338.45" y2="1031.10" stroke="#000" stroke-width="2.4"/>
<line x1="353.61" y1="1015.60" x2="353.61" y2="1022.10" stroke="#000" stroke-width="2.4"/>
<line x1="368.76" y1="1015.60" x2="368.76" y2="1022.10" stroke="#000" stroke-width="2.4"/>
<line x1="383.91" y1="1015.60" x2="383.91" y2="1022.10" stroke="#000" stroke-width="2.4"/>
<line x1="399.07" y1="1015.60" x2="399.07" y2="1022.10" stroke="#000" stroke-width="2.4"/>
<line x1="414.23" y1="1015.60" x2="414.23" y2="1026.60" stroke="#000" stroke-width="2.4"/>
<line x1="429.38" y1="1015.60" x2="429.38" y2="1022.10" stroke="#000" stroke-width="2.4"/>
<line x1="444.53" y1="1015.60" x2="444.53" y2="1022.10" stroke="#000" stroke-width="2.4"/>
<line x1="459.69" y1="1015.60" x2="459.69" y2="1022.10" stroke="#000" stroke-width="2.4"/>
<line x1="474.85" y1="1015.60" x2="474.85" y2="1022.10" stroke="#000" stroke-width="2.4"/>
<line x1="490.00" y1="1015.60" x2="490.00" y2="1031.10" stroke="#000" stroke-width="2.4"/>
<line x1="505.15" y1="1015.60" x2="505.15" y2="1022.10" stroke="#000" stroke-width="2.4"/>
<line x1="520.31" y1="1015.60" x2="520.31" y2="1022.10" stroke="#000" stroke-width="2.4"/>
<line x1="535.47" y1="1015.60" x2="535.47" y2="1022.10" stroke="#000" stroke-width="2.4"/>
<line x1="550.62" y1="1015.60" x2="550.62" y2="1022.10" stroke="#000" stroke-width="2.4"/>
<line x1="565.77" y1="1015.60" x2="565.77" y2="1026.60" stroke="#000" stroke-width="2.4"/>
<line x1="580.93" y1="1015.60" x2="580.93" y2="1022.10" stroke="#000" stroke-width="2.4"/>
<line x1="596.08" y1="1015.60" x2="596.08" y2="1022.10" stroke="#000" stroke-width="2.4"/>
<line x1="611.24" y1="1015.60" x2="611.24" y2="1022.10" stroke="#000" stroke-width="2.4"/>
<line x1="626.39" y1="1015.60" x2="626.39" y2="1022.10" stroke="#000" stroke-width="2.4"/>
<line x1="641.55" y1="1015.60" x2="641.55" y2="1031.10" stroke="#000" stroke-width="2.4"/>
<line x1="656.70" y1="1015.60" x2="656.70" y2="1022.10" stroke="#000" stroke-width="2.4"/>
<line x1="671.86" y1="1015.60" x2="671.86" y2="1022.10" stroke="#000" stroke-width="2.4"/>
<line x1="687.01" y1="1015.60" x2="687.01" y2="1022.10" stroke="#000" stroke-width="2.4"/>
<line x1="702.17" y1="1015.60" x2="702.17" y2="1022.10" stroke="#000" stroke-width="2.4"/>
<line x1="717.32" y1="1015.60" x2="717.32" y2="1026.60" stroke="#000" stroke-width="2.4"/>
<line x1="732.48" y1="1015.60" x2="732.48" y2="1022.10" stroke="#000" stroke-width="2.4"/>
<line x1="747.63" y1="1015.60" x2="747.63" y2="1022.10" stroke="#000" stroke-width="2.4"/>
<line x1="762.79" y1="1015.60" x2="762.79" y2="1022.10" stroke="#000" stroke-width="2.4"/>
<line x1="777.94" y1="1015.60" x2="777.94" y2="1022.10" stroke="#000" stroke-width="2.4"/>
<line x1="793.10" y1="1015.60" x2="793.10" y2="1031.10" stroke="#000" stroke-width="2.4"/>
<line x1="808.25" y1="1015.60" x2="808.25" y2="1022.10" stroke="#000" stroke-width="2.4"/>
<line x1="823.41" y1="1015.60" x2="823.41" y2="1022.10" stroke="#000" stroke-width="2.4"/>
<line x1="838.56" y1="1015.60" x2="838.56" y2="1022.10" stroke="#000" stroke-width="2.4"/>
<line x1="853.72" y1="1015.60" x2="853.72" y2="1022.10" stroke="#000" stroke-width="2.4"/>
<line x1="868.87" y1="1015.60" x2="868.87" y2="1026.60" stroke="#000" stroke-width="2.4"/>
<line x1="884.03" y1="1015.60" x2="884.03" y2="1022.10" stroke="#000" stroke-width="2.4"/>
<line x1="899.18" y1="1015.60" x2="899.18" y2="1022.10" stroke="#000" stroke-width="2.4"/>
<line x1="914.34" y1="1015.60" x2="914.34" y2="1022.10" stroke="#000" stroke-width="2.4"/>
<line x1="929.49" y1="1015.60" x2="929.49" y2="1022.10" stroke="#000" stroke-width="2.4"/>
<line x1="944.65" y1="1015.60" x2="944.65" y2="1031.10" stroke="#000" stroke-width="2.4"/>
<line x1="959.80" y1="1015.60" x2="959.80" y2="1022.10" stroke="#000" stroke-width="2.4"/>
<line x1="974.96" y1="1015.60" x2="974.96" y2="1022.10" stroke="#000" stroke-width="2.4"/>
<line x1="990.11" y1="1015.60" x2="990.11" y2="1022.10" stroke="#000" stroke-width="2.4"/>
<line x1="1005.27" y1="1015.60" x2="1005.27" y2="1022.10" stroke="#000" stroke-width="2.4"/>
<line x1="1020.42" y1="1015.60" x2="1020.42" y2="1026.60" stroke="#000" stroke-width="2.4"/>
<line x1="1035.58" y1="1015.60" x2="1035.58" y2="1022.10" stroke="#000" stroke-width="2.4"/>
<line x1="1050.73" y1="1015.60" x2="1050.73" y2="1022.10" stroke="#000" stroke-width="2.4"/>
<line x1="1065.89" y1="1015.60" x2="1065.89" y2="1022.10" stroke="#000" stroke-width="2.4"/>
<line x1="1081.05" y1="1015.60" x2="1081.05" y2="1022.10" stroke="#000" stroke-width="2.4"/>
<line x1="1096.20" y1="1015.60" x2="1096.20" y2="1031.10" stroke="#000" stroke-width="2.4"/>
<line x1="1111.36" y1="1015.60" x2="1111.36" y2="1022.10" stroke="#000" stroke-width="2.4"/>
<line x1="1126.51" y1="1015.60" x2="1126.51" y2="1022.10" stroke="#000" stroke-width="2.4"/>
<line x1="1141.66" y1="1015.60" x2="1141.66" y2="1022.10" stroke="#000" stroke-width="2.4"/>
<line x1="1156.82" y1="1015.60" x2="1156.82" y2="1022.10" stroke="#000" stroke-width="2.4"/>
<line x1="1171.97" y1="1015.60" x2="1171.97" y2="1026.60" stroke="#000" stroke-width="2.4"/>
<line x1="1187.13" y1="1015.60" x2="1187.13" y2="1022.10" stroke="#000" stroke-width="2.4"/>
<line x1="1202.29" y1="1015.60" x2="1202.29" y2="1022.10" stroke="#000" stroke-width="2.4"/>
<line x1="1217.44" y1="1015.60" x2="1217.44" y2="1022.10" stroke="#000" stroke-width="2.4"/>
<text transform="translate(148.26,1061.20) scale(1.1345,1)" font-family='"Liberation Sans", sans-serif' font-weight="bold" font-size="25.80" fill="#000" stroke="#fff" stroke-width="0.26" paint-order="normal">4,000</text>
<text transform="translate(299.58,1061.20) scale(1.1381,1)" font-family='"Liberation Sans", sans-serif' font-weight="bold" font-size="25.80" fill="#000" stroke="#fff" stroke-width="0.26" paint-order="normal">3,500</text>
<text transform="translate(451.13,1061.20) scale(1.1381,1)" font-family='"Liberation Sans", sans-serif' font-weight="bold" font-size="25.80" fill="#000" stroke="#fff" stroke-width="0.26" paint-order="normal">3,000</text>
<text transform="translate(602.33,1061.20) scale(1.1436,1)" font-family='"Liberation Sans", sans-serif' font-weight="bold" font-size="25.80" fill="#000" stroke="#fff" stroke-width="0.26" paint-order="normal">2,500</text>
<text transform="translate(753.88,1061.20) scale(1.1436,1)" font-family='"Liberation Sans", sans-serif' font-weight="bold" font-size="25.80" fill="#000" stroke="#fff" stroke-width="0.26" paint-order="normal">2,000</text>
<text transform="translate(904.57,1061.20) scale(1.1571,1)" font-family='"Liberation Sans", sans-serif' font-weight="bold" font-size="25.80" fill="#000" stroke="#fff" stroke-width="0.26" paint-order="normal">1,500</text>
<text transform="translate(1056.12,1061.20) scale(1.1571,1)" font-family='"Liberation Sans", sans-serif' font-weight="bold" font-size="25.80" fill="#000" stroke="#fff" stroke-width="0.26" paint-order="normal">1,000</text>
<text transform="translate(588.38,656.20) scale(1.2363,1)" font-family='"Liberation Sans", sans-serif' font-weight="bold" font-size="41.40" fill="#000">IR</text>
<text transform="translate(649.93,656.20) scale(0.9909,1)" font-family='"Liberation Sans", sans-serif' font-weight="bold" font-size="41.40" fill="#000">Spectrum</text>
<text transform="translate(571.84,1102.50) scale(0.9651,1)" font-family='"Liberation Sans", sans-serif' font-weight="bold" font-size="35.00" fill="#000">Frequency</text>
<text transform="translate(753.22,1102.50) scale(1.0118,1)" font-family='"Liberation Sans", sans-serif' font-weight="bold" font-size="35.00" fill="#000">(cm</text>
<text transform="translate(814.96,1090.20) scale(1.2637,1)" font-family='"Liberation Sans", sans-serif' font-weight="bold" font-size="23.00" fill="#000">-1</text>
<text transform="translate(841.66,1102.50) scale(1.1743,1)" font-family='"Liberation Sans", sans-serif' font-weight="bold" font-size="35.00" fill="#000">)</text>
<text transform="translate(56.10,936.00) rotate(-90) translate(-1.17,0.00) scale(0.9752,1)" font-family='"Liberation Sans", sans-serif' font-weight="normal" font-size="35.00" fill="#000" stroke="#000" stroke-width="0.87">ε</text>
<text transform="translate(56.10,936.00) rotate(-90) translate(25.84,0.00) scale(1.1315,1)" font-family='"Liberation Sans", sans-serif' font-weight="normal" font-size="35.00" fill="#000" stroke="#000" stroke-width="0.75">(</text>
<text transform="translate(56.10,936.00) rotate(-90) translate(38.46,0.00) scale(1.0828,1)" font-family='"Liberation Sans", sans-serif' font-weight="bold" font-size="35.00" fill="#000">M</text>
<text transform="translate(56.10,936.00) rotate(-90) translate(68.84,-12.00) scale(1.1363,1)" font-family='"Liberation Sans", sans-serif' font-weight="normal" font-size="23.00" fill="#000" stroke="#000" stroke-width="0.75">-1</text>
<text transform="translate(56.10,936.00) rotate(-90) translate(103.36,0.00) scale(1.0336,1)" font-family='"Liberation Sans", sans-serif' font-weight="normal" font-size="35.00" fill="#000" stroke="#000" stroke-width="0.82">cm</text>
<text transform="translate(56.10,936.00) rotate(-90) translate(151.38,-12.00) scale(1.0980,1)" font-family='"Liberation Sans", sans-serif' font-weight="normal" font-size="23.00" fill="#000" stroke="#000" stroke-width="0.77">-1</text>
<text transform="translate(56.10,936.00) rotate(-90) translate(178.88,0.00) scale(1.0776,1)" font-family='"Liberation Sans", sans-serif' font-weight="normal" font-size="35.00" fill="#000" stroke="#000" stroke-width="0.79">)</text>
<text transform="translate(1373.20,691.20) rotate(90) translate(-3.13,0.00) scale(1.0902,1)" font-family='"Liberation Sans", sans-serif' font-weight="normal" font-size="35.00" fill="#000" stroke="#000" stroke-width="0.78">D</text>
<text transform="translate(1373.20,691.20) rotate(90) translate(34.91,0.00) scale(1.0561,1)" font-family='"Liberation Sans", sans-serif' font-weight="normal" font-size="35.00" fill="#000" stroke="#000" stroke-width="0.80">(</text>
<text transform="translate(1373.20,691.20) rotate(90) translate(50.59,0.00) scale(1.0173,1)" font-family='"Liberation Sans", sans-serif' font-weight="normal" font-size="35.00" fill="#000" stroke="#000" stroke-width="0.84">10</text>
<text transform="translate(1373.20,691.20) rotate(90) translate(89.60,-12.70) scale(1.1872,1)" font-family='"Liberation Sans", sans-serif' font-weight="normal" font-size="22.70" fill="#000" stroke="#000" stroke-width="0.72">-40</text>
<text transform="translate(1373.20,691.20) rotate(90) translate(138.44,0.00) scale(1.0490,1)" font-family='"Liberation Sans", sans-serif' font-weight="normal" font-size="35.00" fill="#000" stroke="#000" stroke-width="0.81">esu</text>
<text transform="translate(1373.20,691.20) rotate(90) translate(196.82,-12.70) scale(1.1217,1)" font-family='"Liberation Sans", sans-serif' font-weight="normal" font-size="22.70" fill="#000" stroke="#000" stroke-width="0.76">2</text>
<text transform="translate(1373.20,691.20) rotate(90) translate(221.15,0.00) scale(1.0452,1)" font-family='"Liberation Sans", sans-serif' font-weight="normal" font-size="35.00" fill="#000" stroke="#000" stroke-width="0.81">cm</text>
<text transform="translate(1373.20,691.20) rotate(90) translate(268.24,-12.70) scale(1.1894,1)" font-family='"Liberation Sans", sans-serif' font-weight="normal" font-size="22.70" fill="#000" stroke="#000" stroke-width="0.71">2</text>
<text transform="translate(1373.20,691.20) rotate(90) translate(285.87,0.00) scale(1.1315,1)" font-family='"Liberation Sans", sans-serif' font-weight="normal" font-size="35.00" fill="#000" stroke="#000" stroke-width="0.75">)</text>
<text transform="translate(705.10,1189.60) scale(1.0029,1)" font-family='"Liberation Serif", serif' font-weight="normal" font-size="40.80" fill="#000">b</text>
<rect x="177.10" y="1345.90" width="1073.90" height="326.80" fill="#ffffff"/>
<path d="M175.20,1674.80 L175.20,1344.00 L1252.30,1344.00" fill="none" stroke="#9c9c9c" stroke-width="3.8"/>
<polyline points="197.9,1661.0 217.8,1661.0 220.2,1659.6 226.3,1659.7 231.7,1656.7 233.6,1651.8 236.0,1643.4 238.4,1642.8 242.1,1643.1 243.5,1640.6 245.6,1623.1 247.7,1604.9 250.1,1590.2 252.2,1586.6 254.3,1589.5 255.4,1609.1 256.8,1630.1 258.9,1644.2 261.7,1649.1 267.3,1650.8 272.2,1649.8 276.4,1644.2 279.2,1633.6 281.3,1616.1 283.1,1591.6 284.4,1551.4 285.6,1520.0 286.8,1517.6 289.2,1517.6 291.0,1516.4 291.6,1478.9 292.2,1430.5 293.4,1382.1 294.7,1381.5 296.5,1385.7 297.7,1406.3 298.9,1466.8 300.1,1515.2 301.3,1563.5 303.1,1599.8 304.9,1624.0 307.4,1639.7 311.0,1649.4 315.8,1655.5 321.9,1658.5 327.9,1660.3 339.0,1659.4 340.8,1661.0 442.0,1661.0 444.5,1658.7 450.8,1658.2 454.0,1655.3 456.5,1649.6 459.0,1640.8 462.2,1636.4 464.1,1632.0 466.0,1621.9 467.9,1618.7 469.8,1621.2 472.3,1626.3 474.8,1625.7 477.3,1624.6 479.9,1626.3 481.8,1628.8 483.6,1621.9 485.5,1600.4 487.4,1587.1 489.3,1587.1 491.2,1601.7 493.1,1619.3 495.6,1620.6 497.5,1621.9 499.4,1633.2 502.6,1636.4 505.1,1634.5 507.6,1633.9 509.5,1637.0 512.0,1647.1 514.6,1652.8 517.1,1653.4 520.3,1650.9 522.8,1643.3 524.7,1628.2 526.6,1613.0 528.2,1607.3 529.7,1610.5 531.6,1625.7 533.5,1642.1 536.0,1652.2 539.2,1656.6 543.6,1657.2 549.3,1656.6 551.8,1653.4 554.3,1644.6 556.9,1630.7 558.8,1610.5 560.6,1600.4 562.5,1608.0 564.4,1629.4 567.0,1649.6 570.1,1654.7 575.2,1658.5 580.8,1660.8 681.0,1660.8 682.0,1662.6 817.0,1662.6 818.0,1660.8 926.9,1660.4 930.1,1658.5 936.4,1657.2 940.2,1654.7 943.4,1649.7 946.5,1647.1 950.3,1648.4 952.8,1644.6 954.7,1634.5 956.6,1621.9 958.5,1611.8 961.0,1603.6 962.9,1609.3 964.8,1621.9 967.3,1626.9 969.9,1618.1 971.8,1609.3 974.3,1605.5 976.8,1600.4 979.3,1599.8 981.9,1600.4 983.1,1595.4 985.0,1591.6 986.9,1596.6 988.8,1606.7 992.0,1609.9 993.8,1619.4 995.7,1628.2 998.3,1630.7 1000.8,1623.2 1002.7,1623.2 1004.6,1629.5 1007.1,1637.0 1010.3,1633.3 1012.8,1620.6 1015.9,1611.8 1019.1,1604.2 1021.0,1587.8 1022.2,1575.2 1023.8,1571.4 1026.0,1576.4 1027.9,1582.8 1030.5,1573.9 1033.6,1572.7 1035.5,1557.5 1037.4,1540.5 1039.3,1553.7 1040.6,1568.9 1043.1,1570.8 1045.0,1562.6 1046.9,1537.3 1048.5,1508.3 1050.0,1518.4 1051.9,1543.6 1053.8,1546.8 1056.3,1531.0 1058.2,1525.9 1060.7,1525.3 1062.0,1505.7 1063.3,1467.9 1064.9,1447.7 1066.4,1464.1 1068.3,1486.8 1070.2,1498.8 1072.1,1474.2 1074.0,1451.5 1075.9,1467.9 1077.8,1486.8 1080.3,1500.7 1083.5,1525.9 1085.4,1505.7 1086.6,1495.6 1087.9,1512.1 1089.1,1549.9 1090.4,1575.8 1092.2,1591.3 1093.9,1590.1 1095.7,1575.8 1096.9,1571.0 1098.1,1575.8 1099.9,1597.2 1102.3,1597.2 1104.1,1587.7 1106.5,1574.6 1108.8,1566.8 1110.6,1575.8 1113.6,1587.7 1115.4,1596.1 1116.6,1611.6 1118.4,1633.0 1120.8,1642.6 1124.3,1647.3 1129.1,1649.1 1133.9,1651.5 1139.8,1653.9 1144.6,1656.9 1149.4,1658.7 1176.2,1658.7 1179.8,1656.3 1183.4,1652.1 1186.3,1648.8 1189.9,1647.9 1192.9,1645.5 1194.7,1635.4 1196.5,1616.3 1198.3,1604.4 1200.0,1611.6 1201.8,1630.6 1204.2,1636.6 1206.6,1636.6 1209.6,1630.6 1211.4,1616.3 1213.2,1602.0 1215.0,1596.6 1216.7,1600.8 1219.7,1613.9 1222.7,1631.8 1225.1,1637.8 1227.5,1640.2 1230.4,1635.4 1233.4,1628.8 1236.4,1633.0 1238.8,1641.4 1241.2,1648.5" fill="none" stroke="#161616" stroke-width="1.8" stroke-linejoin="round" stroke-linecap="round"/>
<path d="M150.30,1355.30 H167.60 V1663.90 H150.30" fill="none" stroke="#000" stroke-width="2.6" stroke-linejoin="miter"/>
<line x1="154.50" y1="1638.18" x2="167.60" y2="1638.18" stroke="#000" stroke-width="2.4"/>
<line x1="150.30" y1="1612.47" x2="167.60" y2="1612.47" stroke="#000" stroke-width="2.4"/>
<line x1="154.50" y1="1586.75" x2="167.60" y2="1586.75" stroke="#000" stroke-width="2.4"/>
<line x1="150.30" y1="1561.03" x2="167.60" y2="1561.03" stroke="#000" stroke-width="2.4"/>
<line x1="154.50" y1="1535.32" x2="167.60" y2="1535.32" stroke="#000" stroke-width="2.4"/>
<line x1="150.30" y1="1509.60" x2="167.60" y2="1509.60" stroke="#000" stroke-width="2.4"/>
<line x1="154.50" y1="1483.88" x2="167.60" y2="1483.88" stroke="#000" stroke-width="2.4"/>
<line x1="150.30" y1="1458.17" x2="167.60" y2="1458.17" stroke="#000" stroke-width="2.4"/>
<line x1="154.50" y1="1432.45" x2="167.60" y2="1432.45" stroke="#000" stroke-width="2.4"/>
<line x1="150.30" y1="1406.73" x2="167.60" y2="1406.73" stroke="#000" stroke-width="2.4"/>
<line x1="154.50" y1="1381.02" x2="167.60" y2="1381.02" stroke="#000" stroke-width="2.4"/>
<text transform="translate(121.39,1670.50) scale(1.2795,1)" font-family='"Liberation Sans", sans-serif' font-weight="bold" font-size="25.80" fill="#000" stroke="#fff" stroke-width="0.23" paint-order="normal">0</text>
<text transform="translate(90.27,1619.07) scale(1.1462,1)" font-family='"Liberation Sans", sans-serif' font-weight="bold" font-size="25.80" fill="#000" stroke="#fff" stroke-width="0.26" paint-order="normal">200</text>
<text transform="translate(90.86,1567.63) scale(1.1323,1)" font-family='"Liberation Sans", sans-serif' font-weight="bold" font-size="25.80" fill="#000" stroke="#fff" stroke-width="0.26" paint-order="normal">400</text>
<text transform="translate(90.22,1516.20) scale(1.1476,1)" font-family='"Liberation Sans", sans-serif' font-weight="bold" font-size="25.80" fill="#000" stroke="#fff" stroke-width="0.26" paint-order="normal">600</text>
<text transform="translate(90.36,1464.77) scale(1.1441,1)" font-family='"Liberation Sans", sans-serif' font-weight="bold" font-size="25.80" fill="#000" stroke="#fff" stroke-width="0.26" paint-order="normal">800</text>
<text transform="translate(65.33,1413.33) scale(1.1506,1)" font-family='"Liberation Sans", sans-serif' font-weight="bold" font-size="25.80" fill="#000" stroke="#fff" stroke-width="0.26" paint-order="normal">1,000</text>
<text transform="translate(65.33,1361.90) scale(1.1506,1)" font-family='"Liberation Sans", sans-serif' font-weight="bold" font-size="25.80" fill="#000" stroke="#fff" stroke-width="0.26" paint-order="normal">1,200</text>
<path d="M1275.60,1355.10 H1260.10 V1663.80 H1275.60" fill="none" stroke="#000" stroke-width="2.6" stroke-linejoin="miter"/>
<line x1="1260.10" y1="1641.75" x2="1271.70" y2="1641.75" stroke="#000" stroke-width="2.4"/>
<line x1="1260.10" y1="1619.70" x2="1275.60" y2="1619.70" stroke="#000" stroke-width="2.4"/>
<line x1="1260.10" y1="1597.65" x2="1271.70" y2="1597.65" stroke="#000" stroke-width="2.4"/>
<line x1="1260.10" y1="1575.60" x2="1275.60" y2="1575.60" stroke="#000" stroke-width="2.4"/>
<line x1="1260.10" y1="1553.55" x2="1271.70" y2="1553.55" stroke="#000" stroke-width="2.4"/>
<line x1="1260.10" y1="1531.50" x2="1275.60" y2="1531.50" stroke="#000" stroke-width="2.4"/>
<line x1="1260.10" y1="1509.45" x2="1271.70" y2="1509.45" stroke="#000" stroke-width="2.4"/>
<line x1="1260.10" y1="1487.40" x2="1275.60" y2="1487.40" stroke="#000" stroke-width="2.4"/>
<line x1="1260.10" y1="1465.35" x2="1271.70" y2="1465.35" stroke="#000" stroke-width="2.4"/>
<line x1="1260.10" y1="1443.30" x2="1275.60" y2="1443.30" stroke="#000" stroke-width="2.4"/>
<line x1="1260.10" y1="1421.25" x2="1271.70" y2="1421.25" stroke="#000" stroke-width="2.4"/>
<line x1="1260.10" y1="1399.20" x2="1275.60" y2="1399.20" stroke="#000" stroke-width="2.4"/>
<line x1="1260.10" y1="1377.15" x2="1271.70" y2="1377.15" stroke="#000" stroke-width="2.4"/>
<text transform="translate(1285.29,1670.40) scale(1.2795,1)" font-family='"Liberation Sans", sans-serif' font-weight="bold" font-size="25.80" fill="#000" stroke="#fff" stroke-width="0.23" paint-order="normal">0</text>
<text transform="translate(1285.57,1626.30) scale(1.1462,1)" font-family='"Liberation Sans", sans-serif' font-weight="bold" font-size="25.80" fill="#000" stroke="#fff" stroke-width="0.26" paint-order="normal">200</text>
<text transform="translate(1286.16,1582.20) scale(1.1323,1)" font-family='"Liberation Sans", sans-serif' font-weight="bold" font-size="25.80" fill="#000" stroke="#fff" stroke-width="0.26" paint-order="normal">400</text>
<text transform="translate(1285.52,1538.10) scale(1.1476,1)" font-family='"Liberation Sans", sans-serif' font-weight="bold" font-size="25.80" fill="#000" stroke="#fff" stroke-width="0.26" paint-order="normal">600</text>
<text transform="translate(1285.66,1494.00) scale(1.1441,1)" font-family='"Liberation Sans", sans-serif' font-weight="bold" font-size="25.80" fill="#000" stroke="#fff" stroke-width="0.26" paint-order="normal">800</text>
<text transform="translate(1284.73,1449.90) scale(1.1506,1)" font-family='"Liberation Sans", sans-serif' font-weight="bold" font-size="25.80" fill="#000" stroke="#fff" stroke-width="0.26" paint-order="normal">1,000</text>
<text transform="translate(1284.73,1405.80) scale(1.1506,1)" font-family='"Liberation Sans", sans-serif' font-weight="bold" font-size="25.80" fill="#000" stroke="#fff" stroke-width="0.26" paint-order="normal">1,200</text>
<text transform="translate(1284.73,1361.70) scale(1.1506,1)" font-family='"Liberation Sans", sans-serif' font-weight="bold" font-size="25.80" fill="#000" stroke="#fff" stroke-width="0.26" paint-order="normal">1,400</text>
<path d="M186.10,1698.10 V1682.60 H1231.79 V1689.10" fill="none" stroke="#000" stroke-width="2.6" stroke-linejoin="miter"/>
<line x1="201.25" y1="1682.60" x2="201.25" y2="1689.10" stroke="#000" stroke-width="2.4"/>
<line x1="216.41" y1="1682.60" x2="216.41" y2="1689.10" stroke="#000" stroke-width="2.4"/>
<line x1="231.56" y1="1682.60" x2="231.56" y2="1689.10" stroke="#000" stroke-width="2.4"/>
<line x1="246.72" y1="1682.60" x2="246.72" y2="1689.10" stroke="#000" stroke-width="2.4"/>
<line x1="261.88" y1="1682.60" x2="261.88" y2="1693.60" stroke="#000" stroke-width="2.4"/>
<line x1="277.03" y1="1682.60" x2="277.03" y2="1689.10" stroke="#000" stroke-width="2.4"/>
<line x1="292.19" y1="1682.60" x2="292.19" y2="1689.10" stroke="#000" stroke-width="2.4"/>
<line x1="307.34" y1="1682.60" x2="307.34" y2="1689.10" stroke="#000" stroke-width="2.4"/>
<line x1="322.50" y1="1682.60" x2="322.50" y2="1689.10" stroke="#000" stroke-width="2.4"/>
<line x1="337.65" y1="1682.60" x2="337.65" y2="1698.10" stroke="#000" stroke-width="2.4"/>
<line x1="352.80" y1="1682.60" x2="352.80" y2="1689.10" stroke="#000" stroke-width="2.4"/>
<line x1="367.96" y1="1682.60" x2="367.96" y2="1689.10" stroke="#000" stroke-width="2.4"/>
<line x1="383.12" y1="1682.60" x2="383.12" y2="1689.10" stroke="#000" stroke-width="2.4"/>
<line x1="398.27" y1="1682.60" x2="398.27" y2="1689.10" stroke="#000" stroke-width="2.4"/>
<line x1="413.42" y1="1682.60" x2="413.42" y2="1693.60" stroke="#000" stroke-width="2.4"/>
<line x1="428.58" y1="1682.60" x2="428.58" y2="1689.10" stroke="#000" stroke-width="2.4"/>
<line x1="443.74" y1="1682.60" x2="443.74" y2="1689.10" stroke="#000" stroke-width="2.4"/>
<line x1="458.89" y1="1682.60" x2="458.89" y2="1689.10" stroke="#000" stroke-width="2.4"/>
<line x1="474.04" y1="1682.60" x2="474.04" y2="1689.10" stroke="#000" stroke-width="2.4"/>
<line x1="489.20" y1="1682.60" x2="489.20" y2="1698.10" stroke="#000" stroke-width="2.4"/>
<line x1="504.36" y1="1682.60" x2="504.36" y2="1689.10" stroke="#000" stroke-width="2.4"/>
<line x1="519.51" y1="1682.60" x2="519.51" y2="1689.10" stroke="#000" stroke-width="2.4"/>
<line x1="534.66" y1="1682.60" x2="534.66" y2="1689.10" stroke="#000" stroke-width="2.4"/>
<line x1="549.82" y1="1682.60" x2="549.82" y2="1689.10" stroke="#000" stroke-width="2.4"/>
<line x1="564.98" y1="1682.60" x2="564.98" y2="1693.60" stroke="#000" stroke-width="2.4"/>
<line x1="580.13" y1="1682.60" x2="580.13" y2="1689.10" stroke="#000" stroke-width="2.4"/>
<line x1="595.28" y1="1682.60" x2="595.28" y2="1689.10" stroke="#000" stroke-width="2.4"/>
<line x1="610.44" y1="1682.60" x2="610.44" y2="1689.10" stroke="#000" stroke-width="2.4"/>
<line x1="625.59" y1="1682.60" x2="625.59" y2="1689.10" stroke="#000" stroke-width="2.4"/>
<line x1="640.75" y1="1682.60" x2="640.75" y2="1698.10" stroke="#000" stroke-width="2.4"/>
<line x1="655.90" y1="1682.60" x2="655.90" y2="1689.10" stroke="#000" stroke-width="2.4"/>
<line x1="671.06" y1="1682.60" x2="671.06" y2="1689.10" stroke="#000" stroke-width="2.4"/>
<line x1="686.21" y1="1682.60" x2="686.21" y2="1689.10" stroke="#000" stroke-width="2.4"/>
<line x1="701.37" y1="1682.60" x2="701.37" y2="1689.10" stroke="#000" stroke-width="2.4"/>
<line x1="716.52" y1="1682.60" x2="716.52" y2="1693.60" stroke="#000" stroke-width="2.4"/>
<line x1="731.68" y1="1682.60" x2="731.68" y2="1689.10" stroke="#000" stroke-width="2.4"/>
<line x1="746.84" y1="1682.60" x2="746.84" y2="1689.10" stroke="#000" stroke-width="2.4"/>
<line x1="761.99" y1="1682.60" x2="761.99" y2="1689.10" stroke="#000" stroke-width="2.4"/>
<line x1="777.14" y1="1682.60" x2="777.14" y2="1689.10" stroke="#000" stroke-width="2.4"/>
<line x1="792.30" y1="1682.60" x2="792.30" y2="1698.10" stroke="#000" stroke-width="2.4"/>
<line x1="807.45" y1="1682.60" x2="807.45" y2="1689.10" stroke="#000" stroke-width="2.4"/>
<line x1="822.61" y1="1682.60" x2="822.61" y2="1689.10" stroke="#000" stroke-width="2.4"/>
<line x1="837.76" y1="1682.60" x2="837.76" y2="1689.10" stroke="#000" stroke-width="2.4"/>
<line x1="852.92" y1="1682.60" x2="852.92" y2="1689.10" stroke="#000" stroke-width="2.4"/>
<line x1="868.07" y1="1682.60" x2="868.07" y2="1693.60" stroke="#000" stroke-width="2.4"/>
<line x1="883.23" y1="1682.60" x2="883.23" y2="1689.10" stroke="#000" stroke-width="2.4"/>
<line x1="898.38" y1="1682.60" x2="898.38" y2="1689.10" stroke="#000" stroke-width="2.4"/>
<line x1="913.54" y1="1682.60" x2="913.54" y2="1689.10" stroke="#000" stroke-width="2.4"/>
<line x1="928.69" y1="1682.60" x2="928.69" y2="1689.10" stroke="#000" stroke-width="2.4"/>
<line x1="943.85" y1="1682.60" x2="943.85" y2="1698.10" stroke="#000" stroke-width="2.4"/>
<line x1="959.00" y1="1682.60" x2="959.00" y2="1689.10" stroke="#000" stroke-width="2.4"/>
<line x1="974.16" y1="1682.60" x2="974.16" y2="1689.10" stroke="#000" stroke-width="2.4"/>
<line x1="989.31" y1="1682.60" x2="989.31" y2="1689.10" stroke="#000" stroke-width="2.4"/>
<line x1="1004.47" y1="1682.60" x2="1004.47" y2="1689.10" stroke="#000" stroke-width="2.4"/>
<line x1="1019.62" y1="1682.60" x2="1019.62" y2="1693.60" stroke="#000" stroke-width="2.4"/>
<line x1="1034.78" y1="1682.60" x2="1034.78" y2="1689.10" stroke="#000" stroke-width="2.4"/>
<line x1="1049.93" y1="1682.60" x2="1049.93" y2="1689.10" stroke="#000" stroke-width="2.4"/>
<line x1="1065.09" y1="1682.60" x2="1065.09" y2="1689.10" stroke="#000" stroke-width="2.4"/>
<line x1="1080.24" y1="1682.60" x2="1080.24" y2="1689.10" stroke="#000" stroke-width="2.4"/>
<line x1="1095.40" y1="1682.60" x2="1095.40" y2="1698.10" stroke="#000" stroke-width="2.4"/>
<line x1="1110.55" y1="1682.60" x2="1110.55" y2="1689.10" stroke="#000" stroke-width="2.4"/>
<line x1="1125.71" y1="1682.60" x2="1125.71" y2="1689.10" stroke="#000" stroke-width="2.4"/>
<line x1="1140.87" y1="1682.60" x2="1140.87" y2="1689.10" stroke="#000" stroke-width="2.4"/>
<line x1="1156.02" y1="1682.60" x2="1156.02" y2="1689.10" stroke="#000" stroke-width="2.4"/>
<line x1="1171.17" y1="1682.60" x2="1171.17" y2="1693.60" stroke="#000" stroke-width="2.4"/>
<line x1="1186.33" y1="1682.60" x2="1186.33" y2="1689.10" stroke="#000" stroke-width="2.4"/>
<line x1="1201.48" y1="1682.60" x2="1201.48" y2="1689.10" stroke="#000" stroke-width="2.4"/>
<line x1="1216.64" y1="1682.60" x2="1216.64" y2="1689.10" stroke="#000" stroke-width="2.4"/>
<text transform="translate(147.46,1728.20) scale(1.1345,1)" font-family='"Liberation Sans", sans-serif' font-weight="bold" font-size="25.80" fill="#000" stroke="#fff" stroke-width="0.26" paint-order="normal">4,000</text>
<text transform="translate(298.78,1728.20) scale(1.1381,1)" font-family='"Liberation Sans", sans-serif' font-weight="bold" font-size="25.80" fill="#000" stroke="#fff" stroke-width="0.26" paint-order="normal">3,500</text>
<text transform="translate(450.33,1728.20) scale(1.1381,1)" font-family='"Liberation Sans", sans-serif' font-weight="bold" font-size="25.80" fill="#000" stroke="#fff" stroke-width="0.26" paint-order="normal">3,000</text>
<text transform="translate(601.53,1728.20) scale(1.1436,1)" font-family='"Liberation Sans", sans-serif' font-weight="bold" font-size="25.80" fill="#000" stroke="#fff" stroke-width="0.26" paint-order="normal">2,500</text>
<text transform="translate(753.08,1728.20) scale(1.1436,1)" font-family='"Liberation Sans", sans-serif' font-weight="bold" font-size="25.80" fill="#000" stroke="#fff" stroke-width="0.26" paint-order="normal">2,000</text>
<text transform="translate(903.77,1728.20) scale(1.1571,1)" font-family='"Liberation Sans", sans-serif' font-weight="bold" font-size="25.80" fill="#000" stroke="#fff" stroke-width="0.26" paint-order="normal">1,500</text>
<text transform="translate(1055.32,1728.20) scale(1.1571,1)" font-family='"Liberation Sans", sans-serif' font-weight="bold" font-size="25.80" fill="#000" stroke="#fff" stroke-width="0.26" paint-order="normal">1,000</text>
<text transform="translate(587.78,1323.20) scale(1.2363,1)" font-family='"Liberation Sans", sans-serif' font-weight="bold" font-size="41.40" fill="#000">IR</text>
<text transform="translate(649.33,1323.20) scale(0.9909,1)" font-family='"Liberation Sans", sans-serif' font-weight="bold" font-size="41.40" fill="#000">Spectrum</text>
<text transform="translate(571.24,1769.50) scale(0.9651,1)" font-family='"Liberation Sans", sans-serif' font-weight="bold" font-size="35.00" fill="#000">Frequency</text>
<text transform="translate(752.62,1769.50) scale(1.0118,1)" font-family='"Liberation Sans", sans-serif' font-weight="bold" font-size="35.00" fill="#000">(cm</text>
<text transform="translate(814.36,1757.20) scale(1.2637,1)" font-family='"Liberation Sans", sans-serif' font-weight="bold" font-size="23.00" fill="#000">-1</text>
<text transform="translate(841.06,1769.50) scale(1.1743,1)" font-family='"Liberation Sans", sans-serif' font-weight="bold" font-size="35.00" fill="#000">)</text>
<text transform="translate(55.30,1603.00) rotate(-90) translate(-1.17,0.00) scale(0.9752,1)" font-family='"Liberation Sans", sans-serif' font-weight="normal" font-size="35.00" fill="#000" stroke="#000" stroke-width="0.87">ε</text>
<text transform="translate(55.30,1603.00) rotate(-90) translate(25.84,0.00) scale(1.1315,1)" font-family='"Liberation Sans", sans-serif' font-weight="normal" font-size="35.00" fill="#000" stroke="#000" stroke-width="0.75">(</text>
<text transform="translate(55.30,1603.00) rotate(-90) translate(38.46,0.00) scale(1.0828,1)" font-family='"Liberation Sans", sans-serif' font-weight="bold" font-size="35.00" fill="#000">M</text>
<text transform="translate(55.30,1603.00) rotate(-90) translate(68.84,-12.00) scale(1.1363,1)" font-family='"Liberation Sans", sans-serif' font-weight="normal" font-size="23.00" fill="#000" stroke="#000" stroke-width="0.75">-1</text>
<text transform="translate(55.30,1603.00) rotate(-90) translate(103.36,0.00) scale(1.0336,1)" font-family='"Liberation Sans", sans-serif' font-weight="normal" font-size="35.00" fill="#000" stroke="#000" stroke-width="0.82">cm</text>
<text transform="translate(55.30,1603.00) rotate(-90) translate(151.38,-12.00) scale(1.0980,1)" font-family='"Liberation Sans", sans-serif' font-weight="normal" font-size="23.00" fill="#000" stroke="#000" stroke-width="0.77">-1</text>
<text transform="translate(55.30,1603.00) rotate(-90) translate(178.88,0.00) scale(1.0776,1)" font-family='"Liberation Sans", sans-serif' font-weight="normal" font-size="35.00" fill="#000" stroke="#000" stroke-width="0.79">)</text>
<text transform="translate(1372.00,1358.20) rotate(90) translate(-3.13,0.00) scale(1.0902,1)" font-family='"Liberation Sans", sans-serif' font-weight="normal" font-size="35.00" fill="#000" stroke="#000" stroke-width="0.78">D</text>
<text transform="translate(1372.00,1358.20) rotate(90) translate(34.91,0.00) scale(1.0561,1)" font-family='"Liberation Sans", sans-serif' font-weight="normal" font-size="35.00" fill="#000" stroke="#000" stroke-width="0.80">(</text>
<text transform="translate(1372.00,1358.20) rotate(90) translate(50.59,0.00) scale(1.0173,1)" font-family='"Liberation Sans", sans-serif' font-weight="normal" font-size="35.00" fill="#000" stroke="#000" stroke-width="0.84">10</text>
<text transform="translate(1372.00,1358.20) rotate(90) translate(89.60,-12.70) scale(1.1872,1)" font-family='"Liberation Sans", sans-serif' font-weight="normal" font-size="22.70" fill="#000" stroke="#000" stroke-width="0.72">-40</text>
<text transform="translate(1372.00,1358.20) rotate(90) translate(138.44,0.00) scale(1.0490,1)" font-family='"Liberation Sans", sans-serif' font-weight="normal" font-size="35.00" fill="#000" stroke="#000" stroke-width="0.81">esu</text>
<text transform="translate(1372.00,1358.20) rotate(90) translate(196.82,-12.70) scale(1.1217,1)" font-family='"Liberation Sans", sans-serif' font-weight="normal" font-size="22.70" fill="#000" stroke="#000" stroke-width="0.76">2</text>
<text transform="translate(1372.00,1358.20) rotate(90) translate(221.15,0.00) scale(1.0452,1)" font-family='"Liberation Sans", sans-serif' font-weight="normal" font-size="35.00" fill="#000" stroke="#000" stroke-width="0.81">cm</text>
<text transform="translate(1372.00,1358.20) rotate(90) translate(268.24,-12.70) scale(1.1894,1)" font-family='"Liberation Sans", sans-serif' font-weight="normal" font-size="22.70" fill="#000" stroke="#000" stroke-width="0.71">2</text>
<text transform="translate(1372.00,1358.20) rotate(90) translate(285.87,0.00) scale(1.1315,1)" font-family='"Liberation Sans", sans-serif' font-weight="normal" font-size="35.00" fill="#000" stroke="#000" stroke-width="0.75">)</text>
<text transform="translate(704.50,1856.60) scale(1.0403,1)" font-family='"Liberation Serif", serif' font-weight="normal" font-size="40.50" fill="#000">c</text>
<rect x="152.50" y="1969.20" width="1122.10" height="326.80" fill="#fefef4"/>
<path d="M150.60,2298.10 L150.60,1967.30 L1275.90,1967.30" fill="none" stroke="#9c9c9c" stroke-width="3.8"/>
<polyline points="173.4,2284.0 194.7,2284.0 197.9,2282.1 203.7,2280.8 208.9,2278.2 210.8,2273.1 213.4,2266.0 216.0,2265.3 219.2,2267.3 221.1,2262.7 223.1,2252.4 225.6,2236.9 228.2,2217.6 230.2,2208.5 231.5,2208.5 232.7,2220.2 234.7,2246.0 237.3,2264.0 241.1,2271.8 246.3,2273.7 251.5,2272.4 255.3,2267.9 259.2,2258.9 261.8,2239.5 263.7,2194.4 265.6,2142.7 267.6,2110.5 269.5,2078.2 271.5,2039.5 272.7,2000.8 273.8,1982.1 274.7,1987.9 276.0,2039.5 277.3,2104.0 278.5,2155.6 280.5,2200.8 282.4,2233.1 285.0,2252.4 288.9,2265.3 294.0,2273.1 300.5,2278.2 309.5,2281.5 319.8,2282.1 323.1,2284.0 429.8,2283.8 432.6,2281.5 439.6,2279.4 443.1,2276.5 445.9,2266.7 448.8,2260.4 451.6,2256.2 454.4,2244.3 456.7,2241.8 459.0,2244.3 461.4,2249.9 464.9,2249.9 468.4,2249.9 471.2,2251.3 473.3,2245.7 475.4,2223.3 477.5,2203.6 478.9,2203.6 480.3,2216.3 481.7,2235.9 483.8,2241.5 486.6,2244.3 488.7,2254.1 490.8,2260.4 494.3,2262.5 497.1,2263.2 500.6,2260.4 502.7,2262.5 504.9,2270.9 507.7,2277.2 511.2,2280.0 518.2,2280.0 522.4,2277.2 525.9,2268.1 528.7,2247.1 530.8,2217.7 532.2,2208.6 533.9,2212.1 535.7,2235.9 537.8,2256.9 541.3,2272.3 546.2,2278.7 553.2,2281.5 560.3,2280.0 564.5,2276.5 568.0,2265.3 570.8,2240.1 572.9,2216.3 574.3,2210.7 575.7,2212.1 577.1,2226.1 579.2,2254.1 582.0,2272.3 586.2,2279.4 593.9,2282.2 597.4,2283.8 702.0,2284.0 703.0,2285.8 822.0,2285.8 823.0,2284.0 934.4,2282.4 940.0,2281.0 943.8,2280.4 949.5,2276.0 952.0,2269.7 954.5,2264.6 957.0,2264.6 960.2,2270.9 963.4,2268.4 965.2,2258.3 967.1,2245.7 969.0,2236.8 970.9,2225.5 972.8,2225.5 974.7,2238.1 977.2,2249.5 979.1,2246.9 981.7,2236.8 983.5,2230.5 986.1,2226.7 988.6,2216.6 990.5,2217.9 993.6,2220.4 996.8,2212.9 998.7,2217.9 1000.6,2229.3 1003.1,2233.1 1005.0,2234.3 1006.9,2244.4 1008.8,2252.0 1011.3,2253.3 1014.5,2247.6 1016.4,2248.2 1018.3,2254.5 1020.8,2257.0 1023.3,2252.0 1025.8,2239.4 1028.4,2235.6 1030.3,2234.3 1032.1,2226.7 1034.0,2214.1 1035.9,2200.2 1037.8,2197.1 1039.7,2202.8 1042.2,2203.4 1044.1,2190.1 1046.0,2186.3 1048.6,2185.1 1049.8,2169.9 1051.1,2151.0 1053.0,2148.5 1054.9,2147.2 1056.1,2119.4 1057.4,2094.2 1058.7,2106.8 1059.9,2144.7 1061.8,2188.9 1064.3,2212.9 1066.2,2207.8 1068.1,2188.9 1070.0,2169.9 1071.9,2151.0 1073.8,2147.2 1075.7,2143.4 1077.0,2119.4 1078.2,2087.9 1079.9,2058.2 1081.4,2062.6 1082.6,2087.9 1083.9,2109.3 1085.8,2115.6 1087.7,2094.2 1089.0,2081.6 1090.2,2087.9 1091.5,2106.8 1093.4,2132.1 1095.9,2134.6 1097.8,2140.9 1099.7,2148.5 1101.6,2125.7 1102.8,2120.7 1104.1,2132.1 1105.4,2169.9 1106.8,2183.9 1108.0,2207.7 1109.8,2218.4 1111.6,2212.5 1113.3,2195.8 1114.5,2194.6 1116.3,2207.7 1117.5,2220.8 1119.3,2222.0 1121.1,2213.7 1123.5,2212.5 1125.3,2210.1 1127.1,2197.0 1128.8,2194.6 1130.6,2198.2 1133.0,2207.7 1134.8,2225.6 1136.6,2249.4 1138.4,2262.6 1142.0,2269.7 1146.7,2271.5 1150.3,2272.7 1155.1,2275.7 1159.8,2277.5 1164.6,2279.9 1168.2,2281.6 1198.0,2281.6 1201.6,2279.9 1205.1,2274.5 1208.7,2271.5 1212.3,2270.3 1214.7,2267.3 1216.5,2255.4 1218.3,2237.5 1220.0,2226.8 1221.8,2233.9 1223.6,2250.6 1225.4,2257.8 1227.8,2259.6 1230.2,2253.0 1232.0,2237.5 1233.8,2224.4 1235.5,2220.8 1237.9,2224.4 1240.3,2233.9 1242.7,2247.1 1245.7,2257.8 1248.1,2262.0 1251.0,2263.8 1253.4,2257.8 1256.4,2253.0 1259.4,2256.6 1261.8,2264.9 1264.8,2270.9" fill="none" stroke="#161616" stroke-width="1.8" stroke-linejoin="round" stroke-linecap="round"/>
<path d="M125.70,1978.60 H143.00 V2287.20 H125.70" fill="none" stroke="#000" stroke-width="2.6" stroke-linejoin="miter"/>
<line x1="129.90" y1="2261.48" x2="143.00" y2="2261.48" stroke="#000" stroke-width="2.4"/>
<line x1="125.70" y1="2235.77" x2="143.00" y2="2235.77" stroke="#000" stroke-width="2.4"/>
<line x1="129.90" y1="2210.05" x2="143.00" y2="2210.05" stroke="#000" stroke-width="2.4"/>
<line x1="125.70" y1="2184.33" x2="143.00" y2="2184.33" stroke="#000" stroke-width="2.4"/>
<line x1="129.90" y1="2158.62" x2="143.00" y2="2158.62" stroke="#000" stroke-width="2.4"/>
<line x1="125.70" y1="2132.90" x2="143.00" y2="2132.90" stroke="#000" stroke-width="2.4"/>
<line x1="129.90" y1="2107.18" x2="143.00" y2="2107.18" stroke="#000" stroke-width="2.4"/>
<line x1="125.70" y1="2081.47" x2="143.00" y2="2081.47" stroke="#000" stroke-width="2.4"/>
<line x1="129.90" y1="2055.75" x2="143.00" y2="2055.75" stroke="#000" stroke-width="2.4"/>
<line x1="125.70" y1="2030.03" x2="143.00" y2="2030.03" stroke="#000" stroke-width="2.4"/>
<line x1="129.90" y1="2004.32" x2="143.00" y2="2004.32" stroke="#000" stroke-width="2.4"/>
<text transform="translate(96.79,2293.80) scale(1.2795,1)" font-family='"Liberation Sans", sans-serif' font-weight="bold" font-size="25.80" fill="#000" stroke="#fff" stroke-width="0.23" paint-order="normal">0</text>
<text transform="translate(65.67,2242.37) scale(1.1462,1)" font-family='"Liberation Sans", sans-serif' font-weight="bold" font-size="25.80" fill="#000" stroke="#fff" stroke-width="0.26" paint-order="normal">200</text>
<text transform="translate(66.26,2190.93) scale(1.1323,1)" font-family='"Liberation Sans", sans-serif' font-weight="bold" font-size="25.80" fill="#000" stroke="#fff" stroke-width="0.26" paint-order="normal">400</text>
<text transform="translate(65.62,2139.50) scale(1.1476,1)" font-family='"Liberation Sans", sans-serif' font-weight="bold" font-size="25.80" fill="#000" stroke="#fff" stroke-width="0.26" paint-order="normal">600</text>
<text transform="translate(65.76,2088.07) scale(1.1441,1)" font-family='"Liberation Sans", sans-serif' font-weight="bold" font-size="25.80" fill="#000" stroke="#fff" stroke-width="0.26" paint-order="normal">800</text>
<text transform="translate(40.73,2036.63) scale(1.1506,1)" font-family='"Liberation Sans", sans-serif' font-weight="bold" font-size="25.80" fill="#000" stroke="#fff" stroke-width="0.26" paint-order="normal">1,000</text>
<text transform="translate(40.73,1985.20) scale(1.1506,1)" font-family='"Liberation Sans", sans-serif' font-weight="bold" font-size="25.80" fill="#000" stroke="#fff" stroke-width="0.26" paint-order="normal">1,200</text>
<path d="M1299.20,1978.40 H1283.70 V2287.10 H1299.20" fill="none" stroke="#000" stroke-width="2.6" stroke-linejoin="miter"/>
<line x1="1283.70" y1="2265.05" x2="1295.30" y2="2265.05" stroke="#000" stroke-width="2.4"/>
<line x1="1283.70" y1="2243.00" x2="1299.20" y2="2243.00" stroke="#000" stroke-width="2.4"/>
<line x1="1283.70" y1="2220.95" x2="1295.30" y2="2220.95" stroke="#000" stroke-width="2.4"/>
<line x1="1283.70" y1="2198.90" x2="1299.20" y2="2198.90" stroke="#000" stroke-width="2.4"/>
<line x1="1283.70" y1="2176.85" x2="1295.30" y2="2176.85" stroke="#000" stroke-width="2.4"/>
<line x1="1283.70" y1="2154.80" x2="1299.20" y2="2154.80" stroke="#000" stroke-width="2.4"/>
<line x1="1283.70" y1="2132.75" x2="1295.30" y2="2132.75" stroke="#000" stroke-width="2.4"/>
<line x1="1283.70" y1="2110.70" x2="1299.20" y2="2110.70" stroke="#000" stroke-width="2.4"/>
<line x1="1283.70" y1="2088.65" x2="1295.30" y2="2088.65" stroke="#000" stroke-width="2.4"/>
<line x1="1283.70" y1="2066.60" x2="1299.20" y2="2066.60" stroke="#000" stroke-width="2.4"/>
<line x1="1283.70" y1="2044.55" x2="1295.30" y2="2044.55" stroke="#000" stroke-width="2.4"/>
<line x1="1283.70" y1="2022.50" x2="1299.20" y2="2022.50" stroke="#000" stroke-width="2.4"/>
<line x1="1283.70" y1="2000.45" x2="1295.30" y2="2000.45" stroke="#000" stroke-width="2.4"/>
<text transform="translate(1308.89,2293.70) scale(1.2795,1)" font-family='"Liberation Sans", sans-serif' font-weight="bold" font-size="25.80" fill="#000" stroke="#fff" stroke-width="0.23" paint-order="normal">0</text>
<text transform="translate(1309.17,2249.60) scale(1.1462,1)" font-family='"Liberation Sans", sans-serif' font-weight="bold" font-size="25.80" fill="#000" stroke="#fff" stroke-width="0.26" paint-order="normal">200</text>
<text transform="translate(1309.76,2205.50) scale(1.1323,1)" font-family='"Liberation Sans", sans-serif' font-weight="bold" font-size="25.80" fill="#000" stroke="#fff" stroke-width="0.26" paint-order="normal">400</text>
<text transform="translate(1309.12,2161.40) scale(1.1476,1)" font-family='"Liberation Sans", sans-serif' font-weight="bold" font-size="25.80" fill="#000" stroke="#fff" stroke-width="0.26" paint-order="normal">600</text>
<text transform="translate(1309.26,2117.30) scale(1.1441,1)" font-family='"Liberation Sans", sans-serif' font-weight="bold" font-size="25.80" fill="#000" stroke="#fff" stroke-width="0.26" paint-order="normal">800</text>
<text transform="translate(1308.33,2073.20) scale(1.1506,1)" font-family='"Liberation Sans", sans-serif' font-weight="bold" font-size="25.80" fill="#000" stroke="#fff" stroke-width="0.26" paint-order="normal">1,000</text>
<text transform="translate(1308.33,2029.10) scale(1.1506,1)" font-family='"Liberation Sans", sans-serif' font-weight="bold" font-size="25.80" fill="#000" stroke="#fff" stroke-width="0.26" paint-order="normal">1,200</text>
<text transform="translate(1308.33,1985.00) scale(1.1506,1)" font-family='"Liberation Sans", sans-serif' font-weight="bold" font-size="25.80" fill="#000" stroke="#fff" stroke-width="0.26" paint-order="normal">1,400</text>
<path d="M161.40,2321.40 V2305.90 H1255.64 V2312.40" fill="none" stroke="#000" stroke-width="2.6" stroke-linejoin="miter"/>
<line x1="177.26" y1="2305.90" x2="177.26" y2="2312.40" stroke="#000" stroke-width="2.4"/>
<line x1="193.12" y1="2305.90" x2="193.12" y2="2312.40" stroke="#000" stroke-width="2.4"/>
<line x1="208.98" y1="2305.90" x2="208.98" y2="2312.40" stroke="#000" stroke-width="2.4"/>
<line x1="224.83" y1="2305.90" x2="224.83" y2="2312.40" stroke="#000" stroke-width="2.4"/>
<line x1="240.69" y1="2305.90" x2="240.69" y2="2316.90" stroke="#000" stroke-width="2.4"/>
<line x1="256.55" y1="2305.90" x2="256.55" y2="2312.40" stroke="#000" stroke-width="2.4"/>
<line x1="272.41" y1="2305.90" x2="272.41" y2="2312.40" stroke="#000" stroke-width="2.4"/>
<line x1="288.27" y1="2305.90" x2="288.27" y2="2312.40" stroke="#000" stroke-width="2.4"/>
<line x1="304.13" y1="2305.90" x2="304.13" y2="2312.40" stroke="#000" stroke-width="2.4"/>
<line x1="319.99" y1="2305.90" x2="319.99" y2="2321.40" stroke="#000" stroke-width="2.4"/>
<line x1="335.84" y1="2305.90" x2="335.84" y2="2312.40" stroke="#000" stroke-width="2.4"/>
<line x1="351.70" y1="2305.90" x2="351.70" y2="2312.40" stroke="#000" stroke-width="2.4"/>
<line x1="367.56" y1="2305.90" x2="367.56" y2="2312.40" stroke="#000" stroke-width="2.4"/>
<line x1="383.42" y1="2305.90" x2="383.42" y2="2312.40" stroke="#000" stroke-width="2.4"/>
<line x1="399.28" y1="2305.90" x2="399.28" y2="2316.90" stroke="#000" stroke-width="2.4"/>
<line x1="415.14" y1="2305.90" x2="415.14" y2="2312.40" stroke="#000" stroke-width="2.4"/>
<line x1="430.99" y1="2305.90" x2="430.99" y2="2312.40" stroke="#000" stroke-width="2.4"/>
<line x1="446.85" y1="2305.90" x2="446.85" y2="2312.40" stroke="#000" stroke-width="2.4"/>
<line x1="462.71" y1="2305.90" x2="462.71" y2="2312.40" stroke="#000" stroke-width="2.4"/>
<line x1="478.57" y1="2305.90" x2="478.57" y2="2321.40" stroke="#000" stroke-width="2.4"/>
<line x1="494.43" y1="2305.90" x2="494.43" y2="2312.40" stroke="#000" stroke-width="2.4"/>
<line x1="510.29" y1="2305.90" x2="510.29" y2="2312.40" stroke="#000" stroke-width="2.4"/>
<line x1="526.15" y1="2305.90" x2="526.15" y2="2312.40" stroke="#000" stroke-width="2.4"/>
<line x1="542.00" y1="2305.90" x2="542.00" y2="2312.40" stroke="#000" stroke-width="2.4"/>
<line x1="557.86" y1="2305.90" x2="557.86" y2="2316.90" stroke="#000" stroke-width="2.4"/>
<line x1="573.72" y1="2305.90" x2="573.72" y2="2312.40" stroke="#000" stroke-width="2.4"/>
<line x1="589.58" y1="2305.90" x2="589.58" y2="2312.40" stroke="#000" stroke-width="2.4"/>
<line x1="605.44" y1="2305.90" x2="605.44" y2="2312.40" stroke="#000" stroke-width="2.4"/>
<line x1="621.30" y1="2305.90" x2="621.30" y2="2312.40" stroke="#000" stroke-width="2.4"/>
<line x1="637.15" y1="2305.90" x2="637.15" y2="2321.40" stroke="#000" stroke-width="2.4"/>
<line x1="653.01" y1="2305.90" x2="653.01" y2="2312.40" stroke="#000" stroke-width="2.4"/>
<line x1="668.87" y1="2305.90" x2="668.87" y2="2312.40" stroke="#000" stroke-width="2.4"/>
<line x1="684.73" y1="2305.90" x2="684.73" y2="2312.40" stroke="#000" stroke-width="2.4"/>
<line x1="700.59" y1="2305.90" x2="700.59" y2="2312.40" stroke="#000" stroke-width="2.4"/>
<line x1="716.45" y1="2305.90" x2="716.45" y2="2316.90" stroke="#000" stroke-width="2.4"/>
<line x1="732.31" y1="2305.90" x2="732.31" y2="2312.40" stroke="#000" stroke-width="2.4"/>
<line x1="748.16" y1="2305.90" x2="748.16" y2="2312.40" stroke="#000" stroke-width="2.4"/>
<line x1="764.02" y1="2305.90" x2="764.02" y2="2312.40" stroke="#000" stroke-width="2.4"/>
<line x1="779.88" y1="2305.90" x2="779.88" y2="2312.40" stroke="#000" stroke-width="2.4"/>
<line x1="795.74" y1="2305.90" x2="795.74" y2="2321.40" stroke="#000" stroke-width="2.4"/>
<line x1="811.60" y1="2305.90" x2="811.60" y2="2312.40" stroke="#000" stroke-width="2.4"/>
<line x1="827.46" y1="2305.90" x2="827.46" y2="2312.40" stroke="#000" stroke-width="2.4"/>
<line x1="843.32" y1="2305.90" x2="843.32" y2="2312.40" stroke="#000" stroke-width="2.4"/>
<line x1="859.17" y1="2305.90" x2="859.17" y2="2312.40" stroke="#000" stroke-width="2.4"/>
<line x1="875.03" y1="2305.90" x2="875.03" y2="2316.90" stroke="#000" stroke-width="2.4"/>
<line x1="890.89" y1="2305.90" x2="890.89" y2="2312.40" stroke="#000" stroke-width="2.4"/>
<line x1="906.75" y1="2305.90" x2="906.75" y2="2312.40" stroke="#000" stroke-width="2.4"/>
<line x1="922.61" y1="2305.90" x2="922.61" y2="2312.40" stroke="#000" stroke-width="2.4"/>
<line x1="938.47" y1="2305.90" x2="938.47" y2="2312.40" stroke="#000" stroke-width="2.4"/>
<line x1="954.33" y1="2305.90" x2="954.33" y2="2321.40" stroke="#000" stroke-width="2.4"/>
<line x1="970.18" y1="2305.90" x2="970.18" y2="2312.40" stroke="#000" stroke-width="2.4"/>
<line x1="986.04" y1="2305.90" x2="986.04" y2="2312.40" stroke="#000" stroke-width="2.4"/>
<line x1="1001.90" y1="2305.90" x2="1001.90" y2="2312.40" stroke="#000" stroke-width="2.4"/>
<line x1="1017.76" y1="2305.90" x2="1017.76" y2="2312.40" stroke="#000" stroke-width="2.4"/>
<line x1="1033.62" y1="2305.90" x2="1033.62" y2="2316.90" stroke="#000" stroke-width="2.4"/>
<line x1="1049.48" y1="2305.90" x2="1049.48" y2="2312.40" stroke="#000" stroke-width="2.4"/>
<line x1="1065.33" y1="2305.90" x2="1065.33" y2="2312.40" stroke="#000" stroke-width="2.4"/>
<line x1="1081.19" y1="2305.90" x2="1081.19" y2="2312.40" stroke="#000" stroke-width="2.4"/>
<line x1="1097.05" y1="2305.90" x2="1097.05" y2="2312.40" stroke="#000" stroke-width="2.4"/>
<line x1="1112.91" y1="2305.90" x2="1112.91" y2="2321.40" stroke="#000" stroke-width="2.4"/>
<line x1="1128.77" y1="2305.90" x2="1128.77" y2="2312.40" stroke="#000" stroke-width="2.4"/>
<line x1="1144.63" y1="2305.90" x2="1144.63" y2="2312.40" stroke="#000" stroke-width="2.4"/>
<line x1="1160.49" y1="2305.90" x2="1160.49" y2="2312.40" stroke="#000" stroke-width="2.4"/>
<line x1="1176.34" y1="2305.90" x2="1176.34" y2="2312.40" stroke="#000" stroke-width="2.4"/>
<line x1="1192.20" y1="2305.90" x2="1192.20" y2="2316.90" stroke="#000" stroke-width="2.4"/>
<line x1="1208.06" y1="2305.90" x2="1208.06" y2="2312.40" stroke="#000" stroke-width="2.4"/>
<line x1="1223.92" y1="2305.90" x2="1223.92" y2="2312.40" stroke="#000" stroke-width="2.4"/>
<line x1="1239.78" y1="2305.90" x2="1239.78" y2="2312.40" stroke="#000" stroke-width="2.4"/>
<text transform="translate(122.76,2351.50) scale(1.1345,1)" font-family='"Liberation Sans", sans-serif' font-weight="bold" font-size="25.80" fill="#000" stroke="#fff" stroke-width="0.26" paint-order="normal">4,000</text>
<text transform="translate(281.11,2351.50) scale(1.1381,1)" font-family='"Liberation Sans", sans-serif' font-weight="bold" font-size="25.80" fill="#000" stroke="#fff" stroke-width="0.26" paint-order="normal">3,500</text>
<text transform="translate(439.70,2351.50) scale(1.1381,1)" font-family='"Liberation Sans", sans-serif' font-weight="bold" font-size="25.80" fill="#000" stroke="#fff" stroke-width="0.26" paint-order="normal">3,000</text>
<text transform="translate(597.93,2351.50) scale(1.1436,1)" font-family='"Liberation Sans", sans-serif' font-weight="bold" font-size="25.80" fill="#000" stroke="#fff" stroke-width="0.26" paint-order="normal">2,500</text>
<text transform="translate(756.52,2351.50) scale(1.1436,1)" font-family='"Liberation Sans", sans-serif' font-weight="bold" font-size="25.80" fill="#000" stroke="#fff" stroke-width="0.26" paint-order="normal">2,000</text>
<text transform="translate(914.24,2351.50) scale(1.1571,1)" font-family='"Liberation Sans", sans-serif' font-weight="bold" font-size="25.80" fill="#000" stroke="#fff" stroke-width="0.26" paint-order="normal">1,500</text>
<text transform="translate(1072.83,2351.50) scale(1.1571,1)" font-family='"Liberation Sans", sans-serif' font-weight="bold" font-size="25.80" fill="#000" stroke="#fff" stroke-width="0.26" paint-order="normal">1,000</text>
<text transform="translate(587.09,1946.70) scale(1.2302,1)" font-family='"Liberation Sans", sans-serif' font-weight="bold" font-size="41.40" fill="#000">IR</text>
<text transform="translate(648.35,1946.70) scale(0.9860,1)" font-family='"Liberation Sans", sans-serif' font-weight="bold" font-size="41.40" fill="#000">Spectrum</text>
<text transform="translate(569.84,2392.80) scale(0.9651,1)" font-family='"Liberation Sans", sans-serif' font-weight="bold" font-size="35.00" fill="#000">Frequency</text>
<text transform="translate(751.22,2392.80) scale(1.0118,1)" font-family='"Liberation Sans", sans-serif' font-weight="bold" font-size="35.00" fill="#000">(cm</text>
<text transform="translate(812.96,2380.50) scale(1.2637,1)" font-family='"Liberation Sans", sans-serif' font-weight="bold" font-size="23.00" fill="#000">-1</text>
<text transform="translate(839.66,2392.80) scale(1.1743,1)" font-family='"Liberation Sans", sans-serif' font-weight="bold" font-size="35.00" fill="#000">)</text>
<text transform="translate(30.70,2226.30) rotate(-90) translate(-1.17,0.00) scale(0.9752,1)" font-family='"Liberation Sans", sans-serif' font-weight="normal" font-size="35.00" fill="#000" stroke="#000" stroke-width="0.87">ε</text>
<text transform="translate(30.70,2226.30) rotate(-90) translate(25.84,0.00) scale(1.1315,1)" font-family='"Liberation Sans", sans-serif' font-weight="normal" font-size="35.00" fill="#000" stroke="#000" stroke-width="0.75">(</text>
<text transform="translate(30.70,2226.30) rotate(-90) translate(38.46,0.00) scale(1.0828,1)" font-family='"Liberation Sans", sans-serif' font-weight="bold" font-size="35.00" fill="#000">M</text>
<text transform="translate(30.70,2226.30) rotate(-90) translate(68.84,-12.00) scale(1.1363,1)" font-family='"Liberation Sans", sans-serif' font-weight="normal" font-size="23.00" fill="#000" stroke="#000" stroke-width="0.75">-1</text>
<text transform="translate(30.70,2226.30) rotate(-90) translate(103.36,0.00) scale(1.0336,1)" font-family='"Liberation Sans", sans-serif' font-weight="normal" font-size="35.00" fill="#000" stroke="#000" stroke-width="0.82">cm</text>
<text transform="translate(30.70,2226.30) rotate(-90) translate(151.38,-12.00) scale(1.0980,1)" font-family='"Liberation Sans", sans-serif' font-weight="normal" font-size="23.00" fill="#000" stroke="#000" stroke-width="0.77">-1</text>
<text transform="translate(30.70,2226.30) rotate(-90) translate(178.88,0.00) scale(1.0776,1)" font-family='"Liberation Sans", sans-serif' font-weight="normal" font-size="35.00" fill="#000" stroke="#000" stroke-width="0.79">)</text>
<text transform="translate(1395.60,1981.50) rotate(90) translate(-3.13,0.00) scale(1.0902,1)" font-family='"Liberation Sans", sans-serif' font-weight="normal" font-size="35.00" fill="#000" stroke="#000" stroke-width="0.78">D</text>
<text transform="translate(1395.60,1981.50) rotate(90) translate(34.91,0.00) scale(1.0561,1)" font-family='"Liberation Sans", sans-serif' font-weight="normal" font-size="35.00" fill="#000" stroke="#000" stroke-width="0.80">(</text>
<text transform="translate(1395.60,1981.50) rotate(90) translate(50.59,0.00) scale(1.0173,1)" font-family='"Liberation Sans", sans-serif' font-weight="normal" font-size="35.00" fill="#000" stroke="#000" stroke-width="0.84">10</text>
<text transform="translate(1395.60,1981.50) rotate(90) translate(89.60,-12.70) scale(1.1872,1)" font-family='"Liberation Sans", sans-serif' font-weight="normal" font-size="22.70" fill="#000" stroke="#000" stroke-width="0.72">-40</text>
<text transform="translate(1395.60,1981.50) rotate(90) translate(138.44,0.00) scale(1.0490,1)" font-family='"Liberation Sans", sans-serif' font-weight="normal" font-size="35.00" fill="#000" stroke="#000" stroke-width="0.81">esu</text>
<text transform="translate(1395.60,1981.50) rotate(90) translate(196.82,-12.70) scale(1.1217,1)" font-family='"Liberation Sans", sans-serif' font-weight="normal" font-size="22.70" fill="#000" stroke="#000" stroke-width="0.76">2</text>
<text transform="translate(1395.60,1981.50) rotate(90) translate(221.15,0.00) scale(1.0452,1)" font-family='"Liberation Sans", sans-serif' font-weight="normal" font-size="35.00" fill="#000" stroke="#000" stroke-width="0.81">cm</text>
<text transform="translate(1395.60,1981.50) rotate(90) translate(268.24,-12.70) scale(1.1894,1)" font-family='"Liberation Sans", sans-serif' font-weight="normal" font-size="22.70" fill="#000" stroke="#000" stroke-width="0.71">2</text>
<text transform="translate(1395.60,1981.50) rotate(90) translate(285.87,0.00) scale(1.1315,1)" font-family='"Liberation Sans", sans-serif' font-weight="normal" font-size="35.00" fill="#000" stroke="#000" stroke-width="0.75">)</text>
<text transform="translate(703.60,2479.10) scale(1.0223,1)" font-family='"Liberation Serif", serif' font-weight="normal" font-size="40.50" fill="#000">d</text>
</svg>
</body></html>
